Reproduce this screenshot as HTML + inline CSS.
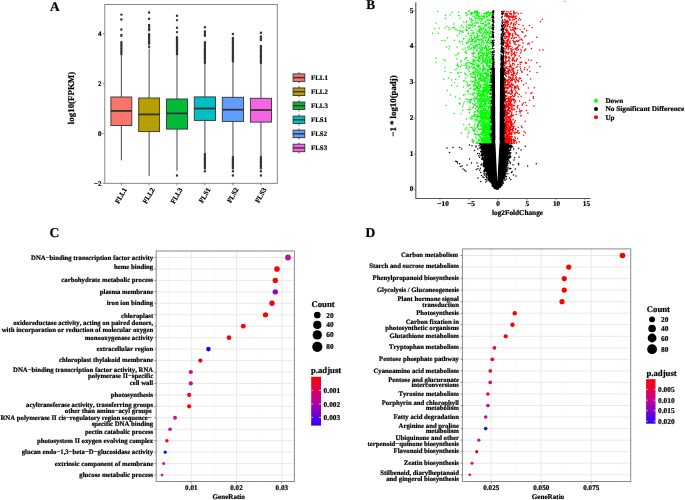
<!DOCTYPE html>
<html><head><meta charset="utf-8"><style>
html,body{margin:0;padding:0;background:#fff;}
body{width:685px;height:500px;overflow:hidden;}
svg{display:block;filter:blur(0.35px);}
text{stroke:#000;stroke-width:0.2px;text-rendering:geometricPrecision;font-kerning:none;font-variant-ligatures:none;}
</style></head><body>
<svg width="685" height="500" viewBox="0 0 685 500" font-family="'Liberation Serif', serif" font-weight="bold" fill="#000" stroke-width="0">
<rect width="685" height="500" fill="#fff"/>
<text x="50.00" y="10.80" font-size="13.3" text-anchor="start" >A</text>
<line x1="102.6" y1="33.68" x2="104.8" y2="33.68" stroke="#333" stroke-width="0.6"/>
<text x="101.60" y="36.08" font-size="7.0" text-anchor="end" >4</text>
<line x1="102.6" y1="83.54" x2="104.8" y2="83.54" stroke="#333" stroke-width="0.6"/>
<text x="101.60" y="85.94" font-size="7.0" text-anchor="end" >2</text>
<line x1="102.6" y1="133.40" x2="104.8" y2="133.40" stroke="#333" stroke-width="0.6"/>
<text x="101.60" y="135.80" font-size="7.0" text-anchor="end" >0</text>
<line x1="102.6" y1="183.26" x2="104.8" y2="183.26" stroke="#333" stroke-width="0.6"/>
<text x="101.60" y="185.66" font-size="7.0" text-anchor="end" >−2</text>
<line x1="121.35" y1="54.0" x2="121.35" y2="160.4" stroke="#333" stroke-width="0.9"/>
<rect x="110.9" y="97.0" width="20.90" height="28.50" fill="#F8766D" stroke="#333" stroke-width="0.9"/>
<line x1="110.9" y1="110.9" x2="131.8" y2="110.9" stroke="#333" stroke-width="1.8"/>
<path d="M121.4 14.6h0M121.4 19.4h0M121.4 29.5h0M121.4 35.0h0M121.4 35.8h0M121.4 42.3h0M121.4 43.1h0M121.4 44.2h0M121.4 45.6h0M121.4 47.0h0M121.4 48.4h0M121.4 49.5h0M121.4 50.9h0M121.4 52.1h0M121.4 52.8h0M121.4 53.9h0M121.4 54.0h0" stroke="#333" stroke-width="2.45" stroke-linecap="round" fill="none"/>
<line x1="149.15" y1="48.5" x2="149.15" y2="175.8" stroke="#333" stroke-width="0.9"/>
<rect x="138.7" y="98.0" width="20.90" height="33.60" fill="#B79F00" stroke="#333" stroke-width="0.9"/>
<line x1="138.7" y1="114.4" x2="159.6" y2="114.4" stroke="#333" stroke-width="1.8"/>
<path d="M149.1 12.4h0M149.1 18.7h0M149.1 25.0h0M149.1 26.5h0M149.1 28.5h0M149.1 30.0h0M149.1 46.7h0M149.1 34.3h0M149.1 35.5h0M149.1 36.4h0M149.1 38.0h0M149.1 39.6h0M149.1 40.7h0M149.1 42.1h0M149.1 42.9h0M149.1 43.8h0M149.1 43.8h0" stroke="#333" stroke-width="2.45" stroke-linecap="round" fill="none"/>
<line x1="177.00" y1="54.0" x2="177.00" y2="170.7" stroke="#333" stroke-width="0.9"/>
<rect x="166.4" y="99.0" width="21.20" height="30.10" fill="#00BA38" stroke="#333" stroke-width="0.9"/>
<line x1="166.4" y1="113.4" x2="187.6" y2="113.4" stroke="#333" stroke-width="1.8"/>
<path d="M177.0 15.8h0M177.0 20.1h0M177.0 27.7h0M177.0 32.1h0M177.0 175.5h0M177.0 37.2h0M177.0 38.0h0M177.0 39.2h0M177.0 40.0h0M177.0 41.4h0M177.0 42.7h0M177.0 43.7h0M177.0 45.0h0M177.0 46.2h0M177.0 46.9h0M177.0 48.0h0M177.0 49.3h0M177.0 50.5h0M177.0 52.1h0M177.0 53.5h0M177.0 54.0h0" stroke="#333" stroke-width="2.45" stroke-linecap="round" fill="none"/>
<line x1="204.90" y1="62.8" x2="204.90" y2="154.2" stroke="#333" stroke-width="0.9"/>
<rect x="194.3" y="96.9" width="21.20" height="23.50" fill="#00BFC4" stroke="#333" stroke-width="0.9"/>
<line x1="194.3" y1="108.5" x2="215.5" y2="108.5" stroke="#333" stroke-width="1.8"/>
<path d="M204.9 27.3h0M204.9 171.3h0M204.9 31.4h0M204.9 33.1h0M204.9 34.2h0M204.9 35.6h0M204.9 35.8h0M204.9 42.3h0M204.9 43.1h0M204.9 43.8h0M204.9 45.1h0M204.9 45.8h0M204.9 46.8h0M204.9 48.4h0M204.9 50.0h0M204.9 50.7h0M204.9 51.4h0M204.9 52.2h0M204.9 53.8h0M204.9 54.4h0M204.9 55.2h0M204.9 55.9h0M204.9 56.7h0M204.9 57.9h0M204.9 58.7h0M204.9 59.7h0M204.9 61.1h0M204.9 62.5h0M204.9 62.8h0M204.9 154.2h0M204.9 155.7h0M204.9 156.9h0M204.9 158.4h0M204.9 159.3h0M204.9 160.3h0M204.9 161.5h0M204.9 163.2h0M204.9 164.4h0M204.9 165.6h0M204.9 166.4h0M204.9 167.4h0M204.9 168.2h0M204.9 168.3h0" stroke="#333" stroke-width="2.45" stroke-linecap="round" fill="none"/>
<line x1="232.95" y1="61.3" x2="232.95" y2="157.1" stroke="#333" stroke-width="0.9"/>
<rect x="222.3" y="97.3" width="21.30" height="24.10" fill="#619CFF" stroke="#333" stroke-width="0.9"/>
<line x1="222.3" y1="109.7" x2="243.6" y2="109.7" stroke="#333" stroke-width="1.8"/>
<path d="M232.9 33.9h0M232.9 171.3h0M232.9 175.5h0M232.9 38.0h0M232.9 39.7h0M232.9 41.2h0M232.9 42.6h0M232.9 43.5h0M232.9 44.4h0M232.9 45.8h0M232.9 47.3h0M232.9 47.9h0M232.9 48.7h0M232.9 50.3h0M232.9 51.0h0M232.9 52.3h0M232.9 53.3h0M232.9 54.6h0M232.9 56.2h0M232.9 57.4h0M232.9 58.4h0M232.9 59.4h0M232.9 60.7h0M232.9 61.3h0M232.9 157.1h0M232.9 158.2h0M232.9 159.3h0M232.9 160.5h0M232.9 161.3h0M232.9 162.1h0M232.9 163.4h0M232.9 164.1h0M232.9 165.3h0M232.9 166.8h0M232.9 168.3h0" stroke="#333" stroke-width="2.45" stroke-linecap="round" fill="none"/>
<line x1="260.95" y1="62.8" x2="260.95" y2="157.1" stroke="#333" stroke-width="0.9"/>
<rect x="250.4" y="98.3" width="21.10" height="23.80" fill="#F564E3" stroke="#333" stroke-width="0.9"/>
<line x1="250.4" y1="110.0" x2="271.5" y2="110.0" stroke="#333" stroke-width="1.8"/>
<path d="M260.9 32.8h0M260.9 171.3h0M260.9 175.5h0M260.9 36.5h0M260.9 38.1h0M260.9 39.0h0M260.9 40.1h0M260.9 46.0h0M260.9 47.6h0M260.9 48.6h0M260.9 50.0h0M260.9 51.0h0M260.9 51.8h0M260.9 52.8h0M260.9 54.2h0M260.9 55.0h0M260.9 56.3h0M260.9 57.3h0M260.9 58.1h0M260.9 59.1h0M260.9 60.2h0M260.9 61.3h0M260.9 62.8h0M260.9 157.1h0M260.9 158.7h0M260.9 159.6h0M260.9 161.2h0M260.9 162.5h0M260.9 164.2h0M260.9 165.7h0M260.9 166.9h0M260.9 167.7h0M260.9 168.3h0" stroke="#333" stroke-width="2.45" stroke-linecap="round" fill="none"/>
<rect x="104.8" y="4.5" width="172.50" height="178.80" fill="none" stroke="#7a7a7a" stroke-width="0.9"/>
<line x1="121.35" y1="183.3" x2="121.35" y2="185.3" stroke="#333" stroke-width="0.6"/>
<text x="0" y="0" font-size="7.0" text-anchor="end" transform="translate(122.95,187.00) rotate(-60)" dy="0.7em">FLL1</text>
<line x1="149.15" y1="183.3" x2="149.15" y2="185.3" stroke="#333" stroke-width="0.6"/>
<text x="0" y="0" font-size="7.0" text-anchor="end" transform="translate(150.75,187.00) rotate(-60)" dy="0.7em">FLL2</text>
<line x1="177.00" y1="183.3" x2="177.00" y2="185.3" stroke="#333" stroke-width="0.6"/>
<text x="0" y="0" font-size="7.0" text-anchor="end" transform="translate(178.60,187.00) rotate(-60)" dy="0.7em">FLL3</text>
<line x1="204.90" y1="183.3" x2="204.90" y2="185.3" stroke="#333" stroke-width="0.6"/>
<text x="0" y="0" font-size="7.0" text-anchor="end" transform="translate(206.50,187.00) rotate(-60)" dy="0.7em">FLS1</text>
<line x1="232.95" y1="183.3" x2="232.95" y2="185.3" stroke="#333" stroke-width="0.6"/>
<text x="0" y="0" font-size="7.0" text-anchor="end" transform="translate(234.55,187.00) rotate(-60)" dy="0.7em">FLS2</text>
<line x1="260.95" y1="183.3" x2="260.95" y2="185.3" stroke="#333" stroke-width="0.6"/>
<text x="0" y="0" font-size="7.0" text-anchor="end" transform="translate(262.55,187.00) rotate(-60)" dy="0.7em">FLS3</text>
<text x="0" y="0" font-size="8.9" text-anchor="middle" transform="translate(74.3,98) rotate(-90)">log10(FPKM)</text>
<line x1="299" y1="72.20" x2="299" y2="83.10" stroke="#333" stroke-width="0.9"/>
<rect x="293.1" y="73.90" width="11.7" height="7.5" fill="#F8766D" stroke="#333" stroke-width="0.9"/>
<line x1="293.1" y1="77.60" x2="304.8" y2="77.60" stroke="#333" stroke-width="1.4"/>
<text x="311.00" y="80.00" font-size="6.9" text-anchor="start" >FLL1</text>
<line x1="299" y1="86.26" x2="299" y2="97.16" stroke="#333" stroke-width="0.9"/>
<rect x="293.1" y="87.96" width="11.7" height="7.5" fill="#B79F00" stroke="#333" stroke-width="0.9"/>
<line x1="293.1" y1="91.66" x2="304.8" y2="91.66" stroke="#333" stroke-width="1.4"/>
<text x="311.00" y="94.06" font-size="6.9" text-anchor="start" >FLL2</text>
<line x1="299" y1="100.32" x2="299" y2="111.22" stroke="#333" stroke-width="0.9"/>
<rect x="293.1" y="102.02" width="11.7" height="7.5" fill="#00BA38" stroke="#333" stroke-width="0.9"/>
<line x1="293.1" y1="105.72" x2="304.8" y2="105.72" stroke="#333" stroke-width="1.4"/>
<text x="311.00" y="108.12" font-size="6.9" text-anchor="start" >FLL3</text>
<line x1="299" y1="114.38" x2="299" y2="125.28" stroke="#333" stroke-width="0.9"/>
<rect x="293.1" y="116.08" width="11.7" height="7.5" fill="#00BFC4" stroke="#333" stroke-width="0.9"/>
<line x1="293.1" y1="119.78" x2="304.8" y2="119.78" stroke="#333" stroke-width="1.4"/>
<text x="311.00" y="122.18" font-size="6.9" text-anchor="start" >FLS1</text>
<line x1="299" y1="128.44" x2="299" y2="139.34" stroke="#333" stroke-width="0.9"/>
<rect x="293.1" y="130.14" width="11.7" height="7.5" fill="#619CFF" stroke="#333" stroke-width="0.9"/>
<line x1="293.1" y1="133.84" x2="304.8" y2="133.84" stroke="#333" stroke-width="1.4"/>
<text x="311.00" y="136.24" font-size="6.9" text-anchor="start" >FLS2</text>
<line x1="299" y1="142.50" x2="299" y2="153.40" stroke="#333" stroke-width="0.9"/>
<rect x="293.1" y="144.20" width="11.7" height="7.5" fill="#F564E3" stroke="#333" stroke-width="0.9"/>
<line x1="293.1" y1="147.90" x2="304.8" y2="147.90" stroke="#333" stroke-width="1.4"/>
<text x="311.00" y="150.30" font-size="6.9" text-anchor="start" >FLS3</text>
<text x="366.30" y="8.80" font-size="13.3" text-anchor="start" >B</text>
<path d="M478.7 101.4h0M483.7 99.6h0M485.8 131.8h0M486.3 48.8h0M478.9 139.2h0M472.8 141.9h0M489.3 71.8h0M491.1 142.9h0M491.2 131.3h0M479.8 99.8h0M484.6 92.1h0M487.2 70.5h0M437.6 11.4h0M487.9 63.1h0M483.3 121.4h0M475.6 108.2h0M471.4 19.0h0M478.9 129.5h0M490.4 14.7h0M487.5 75.7h0M483.2 139.4h0M487.4 54.7h0M484.7 138.5h0M487.6 132.4h0M490.5 131.3h0M484.8 73.4h0M481.8 129.2h0M474.0 47.0h0M483.1 129.4h0M473.9 73.7h0M484.0 129.2h0M490.8 116.9h0M489.7 139.2h0M484.6 80.0h0M480.8 18.8h0M489.1 35.8h0M468.5 28.2h0M482.4 131.4h0M473.1 130.7h0M490.2 79.7h0M482.4 142.1h0M476.1 63.6h0M489.1 80.7h0M487.8 61.1h0M468.1 86.3h0M479.4 122.3h0M488.2 142.9h0M488.8 141.0h0M486.4 84.4h0M460.7 31.4h0M489.4 65.8h0M484.1 142.2h0M472.1 64.2h0M479.1 74.6h0M489.0 118.0h0M477.5 88.2h0M476.2 58.3h0M478.5 27.0h0M466.0 29.6h0M462.9 49.2h0M482.1 76.4h0M481.2 78.8h0M458.4 12.3h0M484.6 109.7h0M477.2 103.0h0M480.3 56.1h0M481.9 97.5h0M478.0 95.2h0M488.7 124.9h0M489.0 67.9h0M483.6 28.7h0M478.9 31.2h0M483.8 130.6h0M466.5 27.1h0M489.7 82.7h0M463.6 95.3h0M469.0 62.6h0M489.3 133.2h0M485.6 129.1h0M479.4 95.7h0M490.4 14.4h0M483.1 142.4h0M486.4 63.0h0M489.4 49.0h0M480.2 101.0h0M491.1 126.8h0M481.1 75.7h0M445.2 71.6h0M483.5 66.9h0M487.4 132.4h0M487.1 62.1h0M485.8 114.9h0M485.5 78.0h0M470.5 49.0h0M489.5 23.7h0M478.9 101.2h0M480.6 111.1h0M465.2 48.1h0M479.1 72.2h0M477.7 44.4h0M465.1 129.2h0M476.1 15.3h0M470.0 117.9h0M486.7 114.6h0M484.5 87.6h0M483.1 142.5h0M485.7 47.6h0M489.2 49.6h0M479.0 92.5h0M466.3 66.1h0M487.9 20.6h0M480.8 91.0h0M476.9 74.2h0M486.1 86.2h0M469.1 39.6h0M464.0 38.6h0M483.5 84.3h0M491.2 94.4h0M484.4 16.8h0M482.6 47.4h0M482.2 65.9h0M462.8 106.5h0M490.4 123.5h0M463.5 103.9h0M489.3 98.1h0M473.0 77.4h0M488.4 51.1h0M488.6 127.8h0M490.5 113.7h0M482.3 59.3h0M486.3 125.5h0M486.5 103.5h0M488.9 90.7h0M483.0 75.4h0M474.7 38.5h0M483.4 127.3h0M486.1 29.2h0M471.4 25.5h0M487.5 32.0h0M490.1 60.0h0M476.2 41.9h0M485.6 136.7h0M486.2 142.9h0M470.2 27.6h0M484.7 94.0h0M490.5 66.7h0M487.0 138.1h0M489.7 92.7h0M483.5 131.8h0M470.4 12.9h0M481.1 140.9h0M483.1 53.6h0M483.0 92.7h0M484.8 143.0h0M484.6 132.1h0M489.8 107.5h0M478.2 93.1h0M474.6 47.3h0M481.7 75.7h0M465.1 94.2h0M474.6 124.7h0M466.2 51.3h0M459.5 30.4h0M484.3 53.2h0M485.7 60.7h0M487.1 99.1h0M488.1 74.2h0M485.7 21.5h0M482.6 70.9h0M468.2 109.5h0M472.8 64.2h0M485.7 142.7h0M491.1 124.8h0M490.7 130.8h0M477.4 125.4h0M470.6 93.7h0M475.7 11.9h0M485.2 140.1h0M482.6 141.8h0M485.1 98.7h0M475.4 78.5h0M484.1 105.6h0M483.8 112.5h0M480.5 86.1h0M489.2 120.6h0M485.5 141.9h0M470.7 109.5h0M473.5 141.5h0M481.2 140.2h0M475.2 97.9h0M466.9 91.5h0M466.1 99.2h0M481.6 79.6h0M490.9 100.9h0M485.4 90.8h0M487.5 69.6h0M479.1 82.9h0M447.3 90.5h0M489.8 58.7h0M479.8 31.1h0M483.5 113.3h0M481.9 85.5h0M487.4 55.5h0M450.3 14.9h0M489.6 142.0h0M490.4 105.0h0M490.5 88.9h0M480.5 68.2h0M489.3 111.6h0M481.7 115.1h0M484.8 140.2h0M488.5 76.5h0M480.9 105.1h0M479.2 112.1h0M483.1 117.3h0M485.0 25.9h0M482.5 138.7h0M487.7 139.7h0M477.4 66.8h0M486.1 140.1h0M485.5 139.7h0M489.4 65.4h0M487.6 113.4h0M486.8 137.3h0M446.9 26.3h0M475.5 103.3h0M480.8 118.2h0M485.2 30.7h0M487.2 112.5h0M484.8 109.8h0M475.1 48.1h0M479.7 85.8h0M491.1 33.2h0M483.5 92.6h0M475.8 17.4h0M485.1 140.8h0M485.4 139.6h0M479.6 29.9h0M485.9 135.3h0M483.7 126.0h0M486.2 91.8h0M473.7 115.8h0M481.3 95.7h0M467.1 63.1h0M474.7 43.0h0M449.4 46.5h0M481.9 19.0h0M466.9 62.7h0M482.0 105.6h0M488.8 12.7h0M489.0 130.0h0M486.2 16.8h0M484.8 137.5h0M487.5 132.3h0M474.6 82.6h0M489.9 137.9h0M485.7 127.0h0M489.1 128.1h0M488.9 132.9h0M470.8 87.9h0M469.6 124.4h0M480.1 115.3h0M490.9 97.3h0M466.5 20.9h0M487.9 90.9h0M487.6 12.9h0M488.8 143.0h0M480.2 48.1h0M488.9 134.2h0M477.5 124.5h0M476.8 74.5h0M479.9 89.9h0M477.8 143.2h0M487.0 43.7h0M483.1 61.7h0M471.4 99.2h0M476.2 37.5h0M477.6 106.0h0M481.5 43.0h0M479.0 91.2h0M490.8 118.9h0M483.7 119.5h0M490.5 113.2h0M479.1 108.9h0M491.3 42.4h0M489.0 111.1h0M491.3 85.6h0M488.1 12.6h0M485.8 77.7h0M486.9 89.2h0M488.7 109.2h0M488.7 130.4h0M477.6 21.4h0M479.2 116.5h0M485.6 135.5h0M484.7 63.0h0M490.1 41.1h0M490.5 127.9h0M479.6 107.3h0M483.3 104.7h0M466.5 53.2h0M491.3 116.6h0M478.8 108.1h0M480.1 49.3h0M489.1 142.8h0M485.6 72.3h0M479.4 93.5h0M478.8 78.4h0M485.4 29.2h0M481.4 94.8h0M477.8 13.5h0M472.7 41.3h0M490.4 76.0h0M484.5 126.1h0M477.4 116.8h0M477.8 99.9h0M479.6 135.9h0M487.9 86.1h0M439.1 28.0h0M477.9 80.0h0M479.0 121.4h0M473.5 84.2h0M491.1 88.0h0M468.9 132.2h0M480.0 71.1h0M480.5 58.2h0M488.3 46.9h0M486.7 99.3h0M483.8 84.8h0M488.4 124.1h0M480.2 73.7h0M478.9 135.2h0M483.2 99.0h0M477.9 66.1h0M455.4 96.8h0M483.7 37.9h0M469.5 85.3h0M477.8 91.3h0M483.4 117.8h0M480.3 29.7h0M480.4 55.8h0M488.1 140.5h0M490.9 94.5h0M487.8 65.2h0M489.2 119.5h0M472.1 140.5h0M468.2 69.9h0M477.1 46.6h0M474.5 85.2h0M481.6 48.9h0M487.5 20.3h0M490.9 120.2h0M466.3 30.6h0M491.0 113.6h0M482.1 142.4h0M450.4 95.1h0M487.9 98.6h0M469.2 25.6h0M483.0 40.9h0M461.3 132.9h0M489.9 130.2h0M489.9 33.3h0M474.0 60.2h0M489.4 35.3h0M466.9 65.1h0M489.2 139.9h0M488.7 62.7h0M483.6 127.0h0M480.6 111.7h0M487.2 81.7h0M486.8 24.8h0M474.1 74.0h0M484.8 103.0h0M489.5 141.7h0M480.5 125.4h0M489.2 121.8h0M489.8 122.5h0M489.2 30.3h0M486.7 100.1h0M488.6 24.3h0M486.5 86.8h0M482.9 71.1h0M468.4 94.0h0M474.8 91.9h0M480.1 51.1h0M483.8 127.0h0M487.6 49.9h0M483.6 96.4h0M483.3 95.0h0M474.8 62.0h0M491.3 132.2h0M485.7 95.4h0M490.9 124.2h0M481.5 28.4h0M489.2 49.0h0M488.4 118.9h0M487.7 76.9h0M478.2 81.9h0M490.3 133.0h0M458.2 65.9h0M488.8 140.9h0M481.2 128.9h0M477.1 96.3h0M484.9 135.2h0M484.3 142.0h0M489.1 135.5h0M491.1 105.1h0M477.4 11.7h0M486.3 127.6h0M481.8 126.4h0M479.4 112.7h0M485.4 78.5h0M486.2 72.5h0M464.1 65.3h0M484.6 32.2h0M476.3 40.0h0M490.0 129.0h0M488.9 87.7h0M488.8 129.1h0M464.2 102.1h0M484.8 36.5h0M488.8 140.3h0M489.9 122.9h0M481.7 124.2h0M485.4 61.9h0M480.5 134.5h0M473.5 53.4h0M488.7 142.8h0M481.6 139.6h0M490.7 52.6h0M491.1 109.0h0M491.2 134.7h0M485.7 118.8h0M489.5 135.9h0M489.2 60.2h0M484.7 130.0h0M480.4 107.5h0M488.4 127.9h0M491.3 128.9h0M477.7 75.5h0M478.8 15.7h0M478.4 26.2h0M454.9 69.8h0M490.8 127.1h0M490.9 104.6h0M485.8 110.3h0M487.6 122.4h0M482.5 98.3h0M488.4 126.6h0M484.3 105.3h0M478.7 64.2h0M488.9 142.7h0M491.1 140.8h0M485.3 95.5h0M491.2 117.3h0M475.0 114.7h0M489.9 124.3h0M478.0 99.1h0M480.0 112.9h0M479.8 52.5h0M488.4 106.8h0M466.6 42.4h0M489.4 28.0h0M486.8 93.8h0M488.4 15.4h0M489.5 127.7h0M488.7 143.2h0M485.1 126.6h0M483.3 87.9h0M467.3 42.1h0M477.4 114.8h0M478.8 61.8h0M469.7 17.9h0M482.5 76.9h0M482.5 112.0h0M488.3 90.0h0M486.0 117.3h0M491.0 136.7h0M490.7 138.4h0M485.4 101.5h0M474.4 133.7h0M487.6 141.3h0M477.8 48.2h0M488.5 125.3h0M481.7 116.3h0M484.0 42.6h0M475.9 63.3h0M484.9 47.3h0M488.8 69.4h0M483.9 143.0h0M478.4 16.6h0M486.8 105.7h0M488.3 23.6h0M490.9 62.2h0M480.5 121.7h0M491.3 137.1h0M486.4 88.7h0M471.0 119.1h0M485.1 122.0h0M466.5 53.5h0M476.8 65.4h0M490.7 135.0h0M482.6 23.5h0M491.3 137.1h0M482.0 85.3h0M486.7 123.0h0M491.0 112.5h0M481.9 140.8h0M487.7 139.9h0M474.4 11.5h0M480.1 97.0h0M484.9 108.7h0M487.3 71.3h0M469.6 102.6h0M490.2 132.6h0M488.7 137.2h0M482.1 55.5h0M483.7 143.1h0M485.1 143.0h0M484.4 48.9h0M456.8 47.0h0M472.5 13.7h0M488.8 107.9h0M480.8 28.0h0M488.2 127.8h0M469.3 71.3h0M487.3 74.3h0M490.1 28.8h0M489.4 116.2h0M478.6 57.2h0M490.4 132.5h0M491.3 114.3h0M487.4 94.5h0M474.2 89.5h0M476.9 33.3h0M482.4 138.0h0M484.3 18.1h0M487.1 63.4h0M469.3 68.1h0M481.9 131.9h0M488.4 134.9h0M481.2 73.4h0M461.5 32.0h0M490.2 94.2h0M483.4 41.0h0M485.3 70.0h0M486.0 127.5h0M482.6 92.7h0M483.8 102.1h0M483.0 23.9h0M486.1 12.4h0M465.9 58.3h0M471.6 35.6h0M479.5 96.1h0M458.0 72.6h0M471.5 48.0h0M479.1 140.7h0M478.2 125.4h0M474.3 89.7h0M490.9 122.4h0M484.4 86.9h0M482.7 126.4h0M473.6 52.6h0M485.1 48.1h0M488.8 138.5h0M470.2 36.1h0M483.5 132.1h0M473.6 77.6h0M479.7 13.3h0M488.3 34.0h0M491.2 69.5h0M484.4 115.6h0M484.2 122.5h0M485.1 132.2h0M490.2 99.5h0M485.3 22.2h0M474.3 130.8h0M486.2 58.4h0M483.7 107.2h0M474.8 105.0h0M478.4 100.8h0M489.1 114.8h0M477.4 83.3h0M475.0 121.7h0M474.3 101.0h0M483.4 57.2h0M489.5 140.8h0M475.6 102.9h0M487.7 65.2h0M479.9 106.7h0M488.3 125.4h0M462.5 44.0h0M477.6 88.3h0M488.6 139.3h0M485.7 60.6h0M471.2 30.1h0M486.0 75.1h0M482.5 99.7h0M443.7 79.3h0M475.3 12.4h0M473.5 72.4h0M488.5 140.6h0M473.6 71.5h0M490.3 129.5h0M490.7 108.9h0M486.0 133.4h0M475.7 57.4h0M489.7 59.3h0M479.5 99.2h0M471.2 21.5h0M485.5 114.2h0M489.2 137.8h0M483.6 93.8h0M487.3 136.4h0M489.2 120.8h0M489.1 106.4h0M485.7 101.5h0M474.8 38.6h0M479.4 134.4h0M480.4 107.4h0M491.3 17.9h0M477.3 134.5h0M482.1 62.3h0M489.4 142.5h0M474.9 17.4h0M491.0 141.7h0M481.8 124.4h0M484.2 116.9h0M463.0 32.2h0M473.1 94.7h0M489.0 120.2h0M486.1 112.2h0M486.5 113.4h0M483.0 141.5h0M486.1 90.9h0M488.2 128.3h0M489.3 118.5h0M491.3 56.2h0M478.3 107.4h0M471.1 81.2h0M487.2 80.5h0M486.9 78.8h0M480.8 95.2h0M489.7 141.4h0M487.4 123.4h0M486.7 37.0h0M473.2 67.7h0M486.1 42.0h0M479.4 44.2h0M491.1 141.2h0M475.5 76.4h0M475.1 74.2h0M491.3 55.6h0M478.6 58.3h0M470.6 14.1h0M477.0 50.8h0M486.6 111.0h0M485.2 137.3h0M484.6 140.4h0M489.9 69.8h0M483.0 137.2h0M473.6 86.2h0M480.6 106.3h0M480.3 136.9h0M488.8 142.4h0M466.8 68.5h0M477.3 66.1h0M490.3 138.2h0M486.5 82.3h0M486.3 133.6h0M483.4 92.0h0M480.6 40.1h0M474.3 97.6h0M487.3 64.8h0M487.3 59.4h0M481.5 140.8h0M480.2 61.7h0M457.0 86.3h0M488.8 100.9h0M486.3 55.6h0M478.2 39.2h0M486.8 85.0h0M476.8 134.7h0M476.3 46.6h0M486.5 128.7h0M478.9 78.7h0M454.5 82.8h0M473.7 66.1h0M475.1 61.3h0M487.4 60.0h0M489.7 142.8h0M490.3 120.9h0M488.0 96.9h0M482.1 122.6h0M474.9 134.0h0M479.5 78.8h0M477.4 89.9h0M490.7 51.8h0M476.2 23.0h0M488.1 127.2h0M464.8 59.6h0M488.4 85.3h0M472.8 20.5h0M475.4 71.3h0M490.6 138.4h0M474.3 13.1h0M491.0 140.9h0M483.4 142.4h0M458.5 66.8h0M484.1 91.8h0M488.5 131.8h0M481.5 95.0h0M490.7 106.0h0M477.3 96.7h0M487.4 86.0h0M480.4 116.1h0M445.5 15.6h0M471.2 37.2h0M482.0 96.3h0M475.6 78.2h0M483.3 139.4h0M484.5 142.3h0M491.0 19.1h0M482.0 42.4h0M478.6 83.2h0M485.3 143.2h0M466.2 15.7h0M491.3 116.1h0M480.6 52.7h0M481.7 91.1h0M479.4 101.0h0M489.4 132.6h0M487.3 97.8h0M489.2 126.7h0M478.3 91.6h0M489.0 131.8h0M484.0 116.8h0M490.3 49.2h0M487.9 53.8h0M477.4 106.4h0M454.1 113.6h0M481.7 109.8h0M476.1 50.6h0M484.5 110.8h0M475.5 57.5h0M488.8 143.0h0M482.6 140.7h0M468.3 129.9h0M473.0 23.9h0M482.9 135.5h0M485.2 131.1h0M472.6 32.9h0M490.2 101.2h0M480.2 123.1h0M491.1 131.8h0M490.4 119.4h0M483.4 91.0h0M472.6 54.0h0M491.0 139.8h0M481.0 119.1h0M487.2 94.3h0M479.0 84.9h0M480.2 16.2h0M488.4 39.5h0M471.2 21.6h0M490.7 54.0h0M484.8 133.7h0M489.7 129.3h0M479.2 47.7h0M491.3 99.7h0M489.0 119.7h0M484.1 77.3h0M486.1 76.5h0M484.1 32.7h0M487.0 89.1h0M472.9 27.2h0M469.6 38.2h0M474.1 93.6h0M489.6 133.0h0M475.9 82.7h0M484.3 121.9h0M486.0 114.7h0M484.8 25.6h0M489.6 143.2h0M484.7 84.1h0M487.7 139.2h0M470.8 73.8h0M480.8 102.7h0M474.2 127.1h0M477.7 125.0h0M478.9 104.8h0M487.9 96.3h0M485.6 40.3h0M483.5 130.7h0M446.5 46.9h0M478.8 66.8h0M469.5 45.9h0M487.4 45.0h0M482.1 26.1h0M484.6 115.2h0M461.1 27.7h0M490.7 140.8h0M467.7 14.4h0M484.4 131.7h0M489.6 13.9h0M474.7 60.0h0M474.3 52.9h0M467.3 84.8h0M487.0 96.0h0M485.2 142.7h0M483.8 127.7h0M486.4 65.3h0M484.8 123.1h0M469.0 66.6h0M468.0 24.7h0M472.3 20.1h0M486.8 52.0h0M491.1 91.6h0M482.9 36.5h0M488.3 57.0h0M486.9 83.1h0M488.8 140.4h0M468.7 91.0h0M488.9 106.4h0M476.3 98.5h0M481.5 104.0h0M476.6 86.9h0M481.5 29.3h0M488.4 11.5h0M489.1 53.4h0M480.6 87.5h0M476.9 60.0h0M484.2 72.8h0M485.7 104.0h0M470.8 19.6h0M485.9 140.4h0M486.3 103.3h0M485.7 84.2h0M481.2 72.5h0M490.6 141.7h0M491.3 141.3h0M487.9 140.3h0M476.2 138.2h0M487.5 96.7h0M486.3 14.1h0M478.3 128.4h0M480.0 106.9h0M484.3 124.8h0M486.1 101.9h0M483.3 101.3h0M481.7 106.8h0M479.4 101.0h0M479.1 101.1h0M484.4 15.5h0M486.9 69.1h0M461.4 60.4h0M480.2 69.4h0M486.4 127.9h0M477.9 14.8h0M485.5 142.9h0M489.5 124.5h0M484.2 108.4h0M480.6 27.4h0M466.4 43.8h0M479.3 81.7h0M487.3 56.7h0M481.9 63.5h0M476.4 13.5h0M480.4 117.3h0M486.2 123.0h0M482.8 95.5h0M486.6 30.9h0M489.2 46.5h0M483.2 79.3h0M472.5 12.7h0M490.8 114.1h0M484.1 120.1h0M486.9 42.6h0M491.2 113.4h0M490.0 111.4h0M466.5 118.9h0M490.5 125.5h0M485.4 139.5h0M484.4 124.0h0M477.3 142.5h0M484.8 129.4h0M478.3 115.9h0M485.8 98.5h0M480.1 45.4h0M487.8 13.5h0M474.9 77.2h0M486.9 115.4h0M460.1 42.7h0M485.1 133.0h0M472.8 128.9h0M489.5 127.9h0M478.6 61.3h0M480.6 140.9h0M490.9 82.7h0M474.4 114.0h0M490.0 36.6h0M490.3 142.8h0M484.3 123.1h0M488.6 117.6h0M486.5 86.0h0M489.2 125.6h0M487.0 142.9h0M482.5 123.6h0M487.7 99.1h0M479.8 32.1h0M483.2 70.9h0M485.4 106.5h0M484.5 99.2h0M468.9 49.5h0M491.2 142.7h0M486.7 48.2h0M474.5 131.2h0M478.1 67.1h0M484.4 101.1h0M432.7 33.3h0M487.4 41.3h0M482.1 16.5h0M476.4 119.1h0M471.6 12.8h0M488.7 143.0h0M482.3 74.1h0M476.8 22.5h0M489.2 81.4h0M470.0 99.8h0M486.4 128.8h0M484.4 115.9h0M486.4 142.9h0M484.1 129.1h0M475.4 116.3h0M489.5 138.5h0M476.8 45.0h0M485.0 141.1h0M491.2 135.6h0M482.5 133.7h0M482.1 117.7h0M485.9 131.8h0M481.1 23.2h0M477.2 110.4h0M482.8 61.9h0M486.8 17.0h0M490.5 26.5h0M489.1 131.7h0M471.9 39.7h0M485.3 69.3h0M490.7 61.5h0M484.3 96.0h0M483.3 141.6h0M490.0 111.8h0M473.1 81.3h0M480.5 94.8h0M489.0 85.4h0M474.8 60.3h0M488.0 142.3h0M477.1 39.8h0M490.7 54.2h0M488.9 43.1h0M484.4 142.1h0M491.0 110.6h0M473.3 39.4h0M489.5 142.1h0M489.9 131.2h0M489.1 73.9h0M489.7 89.8h0M486.0 85.0h0M483.2 98.4h0M491.4 131.0h0M484.6 32.0h0M474.7 88.9h0M487.4 110.3h0M471.8 63.3h0M483.5 121.9h0M473.1 50.3h0M483.4 131.7h0M471.9 53.5h0M466.9 57.7h0M455.7 79.4h0M472.3 40.7h0M486.7 135.3h0M491.0 136.2h0M486.6 75.8h0M484.7 79.1h0M474.6 37.5h0M489.6 112.5h0M481.2 38.9h0M491.4 115.6h0M489.6 143.2h0M490.5 12.7h0M483.0 61.8h0M445.2 60.7h0M486.8 105.5h0M486.7 118.7h0M477.3 66.8h0M479.9 17.3h0M488.0 133.8h0M486.4 131.9h0M472.4 68.5h0M487.9 138.7h0M481.4 43.3h0M489.8 37.7h0M488.1 73.8h0M491.1 142.4h0M482.8 90.3h0M489.6 43.3h0M475.5 69.1h0M478.0 87.1h0M469.8 68.1h0M483.0 52.0h0M489.7 143.1h0M483.6 80.0h0M486.7 141.1h0M444.9 67.3h0M486.3 121.3h0M473.2 46.9h0M485.2 97.1h0M489.8 113.5h0M483.2 108.3h0M488.0 134.7h0M484.8 79.9h0M481.7 120.7h0M482.7 129.2h0M489.9 97.2h0M490.5 31.5h0M484.1 68.4h0M475.7 79.4h0M482.5 116.1h0M486.1 137.9h0M466.9 99.0h0M485.9 129.8h0M478.6 98.9h0M490.9 129.6h0M461.8 25.4h0M481.1 117.9h0M482.3 48.4h0M482.9 135.6h0M481.3 36.1h0M483.2 118.2h0M484.0 54.5h0M483.6 65.0h0M490.3 137.3h0M479.3 42.9h0M489.7 112.6h0M489.5 15.8h0M480.5 64.0h0M474.2 52.7h0M479.2 16.8h0M487.5 111.4h0M486.0 72.9h0M478.6 39.3h0M479.4 39.9h0M490.7 125.4h0M467.8 47.8h0M490.1 110.9h0M473.0 74.3h0M489.5 125.0h0M482.9 33.8h0M487.7 130.3h0M491.2 122.6h0M470.3 74.2h0M490.9 131.2h0M491.2 48.9h0M487.7 101.3h0M488.9 142.2h0M473.2 16.3h0M489.6 35.5h0M481.2 46.2h0M488.3 138.7h0M478.2 134.3h0M457.2 30.3h0M478.1 73.1h0M482.6 69.4h0M482.5 106.5h0M477.1 66.2h0M489.2 43.2h0M483.6 141.7h0M486.7 119.1h0M479.3 85.5h0M471.2 116.5h0M490.9 143.2h0M487.0 32.7h0M478.8 52.9h0M489.3 106.5h0M482.5 100.0h0M490.0 138.1h0M491.4 90.1h0M466.6 13.5h0M468.0 134.1h0M483.8 132.4h0M489.6 22.9h0M483.1 133.6h0M489.5 27.9h0M484.1 114.1h0M483.9 61.1h0M487.0 100.8h0M482.0 101.0h0M490.1 117.2h0M488.9 141.8h0M488.4 142.3h0M471.1 21.9h0M488.4 118.3h0M484.0 135.8h0M490.5 110.5h0M489.9 142.9h0M490.3 60.5h0M484.3 131.4h0M483.4 58.3h0M482.1 113.8h0M469.3 124.3h0M451.9 80.0h0M486.7 133.0h0M486.3 46.7h0M470.5 102.7h0M473.4 130.1h0M487.9 93.4h0M481.0 121.0h0M474.1 80.9h0M488.4 126.0h0M491.1 127.8h0M486.8 106.6h0M491.3 85.4h0M483.2 68.5h0M491.0 111.0h0M490.5 120.5h0M491.3 142.4h0M483.5 33.6h0M490.3 91.2h0M482.5 50.1h0M486.0 115.1h0M449.0 48.9h0M483.3 60.1h0M484.0 90.1h0M470.9 44.2h0M480.3 55.8h0M482.9 28.2h0M477.9 111.3h0M479.8 85.7h0M487.7 96.4h0M487.8 32.8h0M456.8 58.9h0M484.1 122.9h0M473.1 59.2h0M484.8 90.9h0M481.1 115.8h0M483.5 23.3h0M490.5 123.1h0M486.4 116.3h0M478.8 103.7h0M453.7 23.9h0M487.2 127.7h0M486.1 73.5h0M491.2 12.6h0M485.4 139.2h0M487.6 40.4h0M482.2 126.3h0M481.1 124.1h0M483.0 16.4h0M482.2 56.6h0M484.7 123.3h0M490.1 117.4h0M487.8 16.6h0M445.5 18.5h0M454.2 40.3h0M480.1 85.2h0M471.0 41.3h0M487.8 140.9h0M462.8 30.9h0M479.3 68.4h0M490.8 112.3h0M475.9 29.7h0M485.8 100.0h0M490.0 67.5h0M489.8 143.2h0M487.7 127.9h0M461.9 65.2h0M480.5 142.8h0M485.4 59.2h0M484.0 115.7h0M484.0 141.3h0M477.1 69.6h0M483.4 100.4h0M465.6 74.2h0M481.5 112.8h0M459.4 76.4h0M471.6 38.3h0M474.1 100.0h0M489.0 143.0h0M486.9 12.5h0M486.6 65.9h0M484.3 108.8h0M475.6 105.3h0M481.7 15.3h0M488.8 127.9h0M482.6 30.6h0M484.0 91.4h0M489.4 140.7h0M478.1 44.9h0M463.8 81.0h0M485.5 141.3h0M441.8 40.6h0M486.0 134.1h0M475.1 79.5h0M476.8 93.4h0M483.4 110.1h0M488.7 124.5h0M480.8 79.1h0M434.5 28.8h0M475.4 25.8h0M491.0 139.2h0M482.3 138.6h0M491.4 61.6h0M474.0 48.7h0M483.5 44.3h0M491.2 142.5h0M467.9 91.1h0M485.5 137.4h0M485.2 116.8h0M488.4 106.5h0M478.3 121.6h0M488.4 52.5h0M479.2 143.2h0M490.6 14.5h0M486.1 133.7h0M471.2 76.8h0M490.3 127.2h0M488.4 142.5h0M477.0 112.2h0M489.9 42.8h0M484.4 142.4h0M489.9 141.5h0M460.6 66.5h0M481.4 126.1h0M463.6 26.9h0M484.0 141.5h0M491.2 140.6h0M490.3 33.3h0M486.8 113.6h0M490.2 77.7h0M485.4 89.9h0M475.4 46.2h0M483.4 126.1h0M487.5 143.2h0M460.6 62.0h0M487.0 128.2h0M490.7 122.2h0M490.8 65.4h0M475.9 137.1h0M471.8 33.2h0M482.6 133.1h0M490.5 129.6h0M479.8 139.6h0M482.8 98.1h0M486.4 135.8h0M458.4 73.5h0M490.4 135.8h0M479.0 96.1h0M466.6 67.4h0M453.7 27.5h0M485.5 46.5h0M487.9 141.2h0M483.8 13.6h0M457.3 35.8h0M468.2 32.9h0M480.4 77.6h0M489.2 20.0h0M484.8 84.8h0M484.7 139.8h0M465.4 57.9h0M481.0 102.9h0M489.6 84.7h0M490.2 100.5h0M490.5 139.9h0M474.4 42.8h0M487.8 87.2h0M479.3 40.6h0M488.7 75.2h0M460.1 104.1h0M490.9 81.5h0M476.7 86.4h0M491.3 129.8h0M477.0 142.5h0M486.5 134.5h0M482.0 125.9h0M480.1 56.6h0M489.1 121.3h0M473.9 35.3h0M474.8 114.9h0M488.6 124.8h0M486.4 137.6h0M483.7 126.3h0M489.4 135.4h0M469.5 112.8h0M462.1 41.5h0M480.7 23.2h0M485.3 117.5h0M482.6 125.8h0M491.1 61.0h0M481.2 112.3h0M482.6 88.1h0M483.3 87.2h0M490.0 87.3h0M459.4 103.1h0M486.2 120.9h0M480.8 101.2h0M489.4 139.5h0M490.9 130.1h0M482.2 91.5h0M484.2 80.2h0M484.3 78.3h0M478.3 66.3h0M467.3 82.4h0M487.6 87.8h0M482.7 111.6h0M473.0 61.2h0M471.5 14.4h0M490.4 76.9h0M485.9 142.9h0M484.8 77.8h0M479.6 57.4h0M483.3 87.9h0M485.7 139.2h0M474.0 104.6h0M488.5 133.4h0M481.3 133.5h0M482.4 62.4h0M474.6 11.6h0M476.2 143.2h0M485.8 101.9h0M487.8 133.6h0M481.6 35.2h0M480.5 98.8h0M475.5 80.3h0M483.0 80.4h0M479.3 35.7h0M489.6 96.6h0M487.6 127.4h0M481.7 80.0h0M480.3 98.5h0M477.7 126.8h0M483.4 116.2h0M488.6 103.5h0M474.4 36.9h0M484.2 103.2h0M483.6 91.6h0M490.1 20.5h0M490.7 13.3h0M491.1 44.3h0M483.6 132.6h0M491.3 142.8h0M487.8 141.3h0M474.7 17.0h0M465.8 81.6h0M487.0 126.5h0M480.4 137.9h0M483.8 130.4h0M490.7 123.1h0M486.7 126.4h0M479.2 66.4h0M475.0 82.3h0M476.6 116.3h0M490.5 93.5h0M491.0 73.2h0M490.1 139.6h0M487.2 124.1h0M482.3 135.0h0M482.9 76.8h0M457.7 64.0h0M490.6 125.7h0M490.1 136.5h0M476.4 86.0h0M459.9 103.9h0M485.3 101.4h0M483.4 108.3h0M486.1 25.7h0M486.2 91.3h0M482.8 52.2h0M480.9 93.2h0M489.3 125.2h0M480.6 80.6h0M484.7 105.0h0M489.6 138.2h0M477.0 120.4h0M479.7 58.0h0M490.6 137.3h0M473.1 142.6h0M482.8 112.2h0M478.0 70.4h0M485.1 140.6h0M482.2 53.2h0M481.9 47.5h0M490.0 131.8h0M485.1 91.4h0M480.8 74.6h0M473.8 106.8h0M438.4 33.3h0M481.3 52.3h0M484.9 125.8h0M486.2 125.7h0M488.1 79.1h0M481.6 119.8h0M486.8 118.0h0M481.7 104.4h0M458.5 53.1h0M483.5 16.4h0M476.9 72.2h0M485.2 105.9h0M488.6 112.7h0M476.1 98.1h0M455.7 29.2h0M482.0 122.4h0M483.6 140.5h0M456.7 68.7h0M490.8 132.4h0M481.5 110.9h0M490.2 121.4h0M485.7 124.8h0M485.3 82.3h0M481.0 22.9h0M486.5 34.6h0M476.4 87.4h0M474.0 67.8h0M481.1 99.3h0M467.2 75.8h0M487.0 125.0h0M490.0 114.1h0M491.2 125.2h0M486.0 91.2h0M479.0 29.3h0M478.3 121.7h0M472.5 39.6h0M478.4 67.2h0M488.4 134.3h0M490.0 116.2h0M481.5 108.2h0M486.8 113.9h0M459.2 15.8h0M444.8 40.4h0M490.8 106.5h0M484.3 112.6h0M491.0 143.1h0M480.5 105.3h0M480.4 75.2h0M487.7 127.0h0M486.9 19.4h0M477.9 119.0h0M484.9 126.3h0M485.8 22.2h0M478.6 60.6h0M490.8 68.5h0M490.1 132.5h0M491.2 121.6h0M489.6 91.4h0M490.9 138.9h0M489.2 135.6h0M481.9 50.1h0M481.5 111.5h0M478.0 109.5h0M489.8 104.1h0M473.9 140.2h0M477.4 11.0h0M489.2 80.0h0M480.0 73.7h0M490.7 141.9h0M486.7 53.9h0M486.6 50.8h0M490.9 109.2h0M476.7 142.1h0M470.0 88.5h0M484.2 67.4h0M481.0 78.5h0M489.4 115.2h0M484.4 96.3h0M485.8 141.3h0M482.1 133.4h0M478.8 78.7h0M484.5 17.0h0M483.0 55.3h0M483.9 123.3h0M478.3 36.8h0M483.6 139.9h0M483.5 77.8h0M489.4 106.7h0M490.9 48.5h0M465.5 77.9h0M481.1 132.2h0M489.5 93.7h0M490.0 123.8h0M486.3 141.9h0M478.4 125.4h0M470.7 100.8h0M481.4 99.6h0M483.5 119.2h0M489.7 56.4h0M476.0 57.1h0M490.5 76.8h0M490.4 112.6h0M484.6 142.1h0M490.4 75.6h0M459.3 41.1h0M491.4 129.8h0M482.4 132.9h0M485.7 142.2h0M490.4 54.0h0M447.5 38.1h0M480.0 85.3h0M461.0 72.5h0M472.2 94.4h0M481.0 102.2h0M472.3 82.1h0M467.2 30.4h0M486.7 142.5h0M477.6 18.6h0M478.9 54.5h0M488.3 103.2h0M485.2 112.9h0M482.6 117.8h0M456.0 55.5h0M488.0 140.8h0M479.1 120.5h0M491.1 143.0h0M486.9 142.5h0M483.4 88.8h0M488.7 91.6h0M488.5 134.3h0M487.6 82.4h0M479.3 79.1h0M484.5 130.0h0M473.4 47.7h0M485.2 13.6h0M490.4 123.8h0M485.6 132.5h0M469.3 109.8h0M487.2 90.3h0M484.3 141.4h0M480.5 120.4h0M486.3 110.7h0M482.9 17.0h0M475.2 72.9h0M490.8 115.8h0M485.0 139.9h0M463.8 22.0h0M487.5 139.1h0M481.0 50.6h0M490.9 133.0h0M478.6 104.1h0M490.7 141.6h0M481.9 138.3h0M485.6 81.0h0M483.5 114.4h0M481.5 111.7h0M488.9 140.1h0M488.3 23.8h0M484.9 100.6h0M487.5 140.5h0M483.0 89.4h0M491.0 118.9h0M488.7 40.3h0M490.7 121.2h0M484.2 27.5h0M483.4 140.3h0M486.6 131.6h0M488.3 74.0h0M491.1 79.6h0M457.1 65.3h0M486.2 37.8h0M481.6 80.2h0M488.4 87.2h0M486.8 139.6h0M472.3 139.4h0M478.7 135.1h0M488.9 143.2h0M489.2 119.1h0M487.9 142.9h0M471.9 127.4h0M473.6 94.9h0M485.4 55.6h0M488.7 57.7h0M482.4 105.8h0M483.2 125.3h0M464.1 80.4h0M479.1 65.6h0M479.0 26.3h0M476.7 87.7h0M486.3 120.2h0M484.6 118.8h0M486.8 143.2h0M486.0 108.7h0M482.9 137.8h0M486.5 139.1h0M483.6 78.3h0M465.7 13.0h0M475.8 45.3h0M488.0 11.4h0M470.1 127.3h0M482.5 127.9h0M474.2 60.7h0M472.2 25.4h0M483.4 121.1h0M481.5 120.8h0M470.4 49.1h0M474.9 76.1h0M490.0 60.2h0M486.4 132.8h0M490.7 117.6h0M471.5 66.7h0M473.2 92.9h0M475.8 89.9h0M477.3 34.6h0M480.3 115.2h0M486.4 140.9h0M488.5 20.0h0M484.2 100.3h0M488.6 70.9h0M490.3 82.4h0M488.3 139.2h0M490.8 116.4h0M464.8 73.2h0M479.9 26.2h0M474.1 112.6h0M448.4 78.1h0M490.9 135.8h0M480.8 86.1h0M480.8 113.7h0M487.2 136.7h0M485.8 141.2h0M490.6 137.3h0M487.8 90.5h0M482.9 101.7h0M485.4 24.8h0M488.3 129.6h0M487.7 129.3h0M475.6 41.2h0M488.4 98.8h0M490.6 107.0h0M488.0 101.1h0M485.1 115.8h0M489.6 142.0h0M477.3 132.1h0M488.5 32.0h0M482.1 118.7h0M471.2 41.5h0M488.3 142.5h0M490.6 143.2h0M486.0 34.5h0M481.5 132.7h0M488.7 103.1h0M477.3 12.0h0M461.1 113.8h0M490.9 74.7h0M478.2 88.5h0M468.6 11.3h0M490.9 13.9h0M475.0 129.7h0M491.1 57.7h0M476.6 23.0h0M484.0 89.2h0M466.4 26.3h0M485.4 38.3h0M487.4 117.8h0M478.3 143.2h0M488.3 97.7h0M490.1 52.3h0M490.2 104.7h0M482.5 111.1h0M481.9 107.3h0M473.3 56.1h0M479.0 88.4h0M474.1 32.8h0M476.1 18.8h0M484.9 61.1h0M472.3 118.7h0M480.9 21.3h0M491.2 63.5h0M477.8 30.9h0M482.1 116.4h0M485.6 139.0h0M470.8 100.0h0M484.3 32.7h0M483.4 121.0h0M452.2 12.6h0M477.3 15.7h0M487.6 139.2h0M481.1 138.2h0M486.3 126.2h0M474.3 116.0h0M491.0 104.4h0M483.0 66.3h0M478.1 94.0h0M485.0 141.2h0M487.0 118.4h0M490.6 120.6h0M486.8 86.8h0M480.0 59.5h0M486.9 138.4h0M491.0 78.4h0M473.5 89.2h0M489.6 129.6h0M486.3 138.4h0M480.5 33.0h0M468.3 34.3h0M462.7 110.6h0M486.2 73.9h0M489.8 139.2h0M481.1 75.3h0M488.2 27.7h0M483.6 138.6h0M489.4 99.3h0M488.4 113.9h0M479.3 59.4h0M483.4 142.5h0M478.9 111.3h0M484.2 81.7h0M487.5 76.6h0M484.1 121.1h0M487.5 139.4h0M478.8 12.9h0M482.2 57.5h0M491.2 142.9h0M488.8 137.5h0M490.6 98.3h0M467.8 137.0h0M488.2 27.2h0M489.2 33.6h0M450.8 72.6h0M477.4 39.7h0M436.1 23.0h0M478.1 54.0h0M479.2 105.3h0M485.0 84.4h0M482.7 35.0h0M487.8 23.4h0M472.3 64.2h0M474.9 22.9h0M489.4 143.0h0M483.7 128.8h0M472.4 72.5h0M483.0 121.6h0M435.8 58.1h0M479.2 90.5h0M478.8 92.0h0M491.0 42.0h0M470.2 63.2h0M488.9 38.6h0M486.0 134.4h0M481.2 134.0h0M470.1 41.7h0M474.2 64.3h0M488.8 102.5h0M473.4 39.4h0M483.2 142.2h0M468.0 60.5h0M490.7 81.5h0M475.9 40.7h0M489.9 142.2h0M491.1 44.7h0M481.1 111.0h0M477.2 37.2h0M483.9 113.5h0M488.3 140.4h0M482.3 100.4h0M481.0 107.9h0M489.5 67.5h0M478.3 123.3h0M459.4 33.5h0M485.8 112.1h0M479.5 20.0h0M488.8 66.9h0M481.0 85.0h0M485.0 52.0h0M477.8 124.9h0M467.8 101.7h0M489.5 37.2h0M487.1 111.7h0M477.9 101.6h0M489.3 90.2h0M484.7 67.7h0M482.0 95.7h0M484.0 81.3h0M487.1 125.5h0M457.9 54.3h0M490.0 77.5h0M484.9 59.4h0M477.5 82.6h0M475.5 88.2h0M483.9 99.8h0M474.8 72.7h0M481.6 102.9h0M477.0 87.1h0M486.4 128.0h0M454.5 27.8h0M487.3 78.6h0M483.8 133.5h0M463.3 87.1h0M485.7 88.6h0M469.4 28.5h0M485.2 29.4h0M478.3 57.0h0M477.9 94.2h0M484.7 31.5h0M490.1 61.9h0M482.3 93.5h0M489.5 133.4h0M482.2 122.3h0M478.5 73.8h0M483.6 109.4h0M482.4 129.8h0M473.3 33.2h0M485.6 128.1h0M484.6 114.8h0M484.2 89.6h0M479.6 77.6h0M466.2 63.4h0M490.4 74.1h0M488.8 101.3h0M482.6 18.7h0M476.1 99.2h0M488.1 125.4h0M480.6 115.2h0M488.7 102.7h0M478.2 23.1h0M489.1 140.7h0M475.1 20.3h0M483.4 142.4h0M488.8 112.0h0M487.4 112.8h0M486.7 119.6h0M486.3 132.0h0M484.9 84.2h0M480.9 129.2h0M487.3 119.7h0M480.0 129.4h0M489.9 88.1h0M484.7 104.2h0M444.1 59.4h0M485.9 137.6h0M475.1 111.5h0M484.7 35.3h0M466.0 65.0h0M484.2 37.2h0M489.8 63.0h0M449.1 29.8h0M491.2 127.0h0M484.7 94.9h0M486.6 110.4h0M486.8 54.6h0M488.7 130.6h0M481.6 105.0h0M486.5 14.4h0M482.4 92.2h0M487.0 142.1h0M480.3 110.4h0M489.8 142.9h0M485.4 58.1h0M487.7 32.8h0M479.0 84.5h0M475.1 119.2h0M488.2 66.1h0M475.2 85.7h0M489.0 116.7h0M489.4 52.5h0M471.6 63.7h0M484.4 142.8h0M485.8 87.6h0M468.2 85.2h0M474.1 56.8h0M486.4 52.9h0M475.2 120.1h0M488.2 140.4h0M476.4 80.4h0M474.9 97.3h0M481.4 32.0h0M472.7 103.7h0M485.1 89.9h0M489.1 123.4h0M491.3 140.0h0M475.2 70.2h0M485.6 118.2h0M488.6 121.1h0M490.7 25.8h0M487.1 32.9h0M483.3 73.6h0M484.8 122.9h0M480.9 39.4h0M470.2 85.1h0M466.2 36.2h0M473.3 107.5h0M482.8 90.5h0M488.2 92.3h0M482.8 111.0h0M472.1 43.4h0M486.0 55.2h0M474.2 25.7h0M488.1 48.1h0M491.1 59.2h0M478.5 90.6h0M486.1 89.7h0M476.8 143.1h0M473.3 61.4h0M483.6 124.1h0M488.2 86.3h0M485.0 59.3h0M489.1 23.8h0M477.7 72.4h0M469.5 112.5h0M487.6 132.4h0M481.0 136.9h0M475.3 78.4h0M489.5 14.7h0M483.7 70.4h0M483.1 128.7h0M479.5 79.6h0M488.1 108.0h0M477.8 71.6h0M490.8 121.1h0M491.3 142.0h0M479.9 105.1h0M489.6 141.9h0M487.4 42.3h0M491.3 78.6h0M485.3 136.3h0M476.6 12.3h0M488.7 115.3h0M476.6 106.7h0M474.4 105.1h0M485.4 45.3h0M485.0 61.1h0M474.8 11.4h0M483.1 61.0h0M478.8 56.3h0M477.2 35.9h0M477.4 65.1h0M484.5 97.0h0M483.2 55.6h0M474.5 41.5h0M483.4 114.3h0M489.5 84.2h0M446.1 105.6h0M478.8 61.5h0M489.2 27.2h0M481.9 39.9h0M472.7 107.9h0M487.1 128.0h0M482.9 87.4h0M484.7 140.9h0M489.9 121.4h0M466.2 22.6h0M481.3 116.8h0M452.0 28.1h0M474.1 67.7h0M488.5 133.3h0M489.7 142.1h0M478.8 31.9h0M488.2 103.5h0M483.0 119.1h0M488.1 23.2h0M489.4 111.5h0M481.6 55.7h0M489.2 136.1h0M468.7 100.0h0M481.6 104.4h0M484.3 131.5h0M477.9 60.4h0M472.6 116.4h0M473.3 47.4h0M473.3 99.1h0M482.1 20.3h0M478.3 86.1h0M478.0 39.2h0M490.1 91.2h0M445.0 28.0h0M487.0 84.6h0M487.6 116.8h0M490.8 112.4h0M479.5 136.2h0M488.2 127.3h0M481.1 96.9h0M472.3 23.7h0M481.9 45.0h0M490.4 65.9h0M470.3 101.4h0M483.1 142.0h0M487.6 92.2h0M484.5 127.4h0M490.6 32.6h0M490.6 142.1h0M490.3 132.6h0M482.8 38.7h0M482.4 50.2h0M483.9 141.9h0M481.9 85.2h0M482.6 94.6h0M436.0 62.6h0M459.9 18.3h0M488.3 47.6h0M491.2 40.0h0M486.9 57.0h0M475.3 25.8h0M487.9 123.8h0M480.5 85.9h0M490.1 129.7h0M490.2 126.1h0M484.3 106.4h0M482.1 132.6h0M491.1 102.3h0M485.2 124.2h0M490.4 134.4h0M486.6 57.7h0M485.7 118.5h0M489.5 84.8h0M480.5 76.1h0M491.0 132.6h0M491.2 37.5h0M489.3 113.6h0M481.9 42.0h0M475.4 84.0h0M480.0 88.2h0M484.8 142.5h0M490.7 74.2h0M468.3 42.3h0M470.3 24.5h0M485.9 32.4h0M486.9 129.6h0M482.5 141.7h0M474.5 67.3h0M479.7 86.1h0M489.3 85.9h0M483.1 47.6h0M477.2 13.2h0M485.9 133.7h0M463.7 124.6h0M487.4 73.2h0M465.3 52.3h0M488.1 85.4h0M487.5 141.7h0M471.1 74.5h0M490.2 133.3h0M484.5 124.6h0M487.7 138.2h0M482.0 91.8h0M451.6 85.5h0M483.2 75.9h0M490.8 123.3h0M487.1 65.8h0M476.8 127.5h0M473.7 64.8h0M489.8 61.3h0M489.1 103.5h0M488.2 50.7h0M478.6 115.4h0M491.0 106.1h0M487.1 85.7h0M477.5 117.6h0M488.6 120.3h0M485.3 133.8h0M491.1 114.1h0M487.0 49.7h0M463.4 39.1h0M478.4 140.5h0M484.9 142.9h0M477.3 98.2h0M484.9 129.3h0M491.2 13.5h0M486.4 142.8h0M478.8 18.7h0M475.0 68.4h0M482.6 118.6h0M490.8 88.6h0M477.6 76.8h0M479.3 52.0h0M458.8 15.5h0M479.2 113.2h0M486.8 140.8h0M488.1 12.5h0M488.9 142.8h0M481.0 114.5h0M469.2 11.1h0M483.6 64.9h0M480.2 94.8h0M475.2 128.6h0M489.9 75.7h0M468.7 46.5h0M475.9 69.8h0M491.0 135.9h0M478.9 65.5h0M489.3 133.6h0M478.6 103.2h0M491.1 131.2h0M490.9 132.5h0M468.9 40.4h0M472.7 63.3h0M478.8 95.5h0M478.6 123.8h0M470.0 107.3h0M481.9 131.9h0M483.5 108.2h0M485.0 61.1h0M488.7 132.5h0M476.8 49.9h0M475.6 133.9h0M489.4 113.6h0M474.8 129.7h0M487.3 142.7h0M480.0 101.1h0M472.1 41.0h0M489.8 100.5h0M489.0 126.7h0M487.9 88.5h0M483.5 137.8h0M490.1 103.2h0M476.3 14.1h0M487.8 141.8h0M484.1 101.0h0M486.7 64.1h0M487.4 123.0h0M491.1 138.0h0M483.5 141.3h0M481.9 81.2h0M480.0 95.5h0M491.1 124.2h0M478.2 126.3h0M487.1 59.6h0M488.3 113.8h0M486.3 92.7h0M487.2 137.5h0M449.0 27.7h0M480.1 102.4h0M491.0 137.2h0M473.1 45.3h0M477.1 131.7h0M479.2 88.4h0M459.9 98.6h0M486.7 112.3h0M466.3 29.5h0M483.7 112.2h0M482.8 70.0h0M483.5 69.0h0M476.5 65.5h0M466.5 128.0h0M472.3 77.0h0M486.7 131.5h0M472.9 31.0h0M491.1 42.2h0M476.4 11.4h0M491.2 36.7h0" stroke="#00FF00" stroke-width="1.5" stroke-linecap="round" fill="none"/>
<path d="M518.4 35.8h0M513.3 70.7h0M520.5 78.5h0M507.6 113.2h0M509.3 36.2h0M505.4 128.5h0M510.7 119.7h0M508.9 123.3h0M506.8 22.7h0M504.7 106.3h0M505.8 87.4h0M509.6 46.6h0M529.9 71.5h0M511.6 16.7h0M505.4 142.6h0M505.3 136.4h0M519.7 45.4h0M517.9 87.7h0M505.1 140.0h0M513.4 98.9h0M508.5 117.6h0M507.3 119.5h0M513.4 24.3h0M515.8 86.6h0M505.9 72.4h0M508.7 72.6h0M510.8 14.3h0M513.0 85.6h0M507.0 110.7h0M507.1 106.3h0M511.9 140.3h0M507.9 121.6h0M514.4 109.6h0M523.1 25.5h0M510.2 133.7h0M506.6 45.3h0M509.1 143.2h0M509.1 66.6h0M512.2 59.4h0M507.8 134.3h0M509.4 140.5h0M513.5 139.4h0M521.9 31.6h0M507.7 80.6h0M511.3 79.9h0M508.2 88.2h0M525.8 62.9h0M504.3 62.9h0M506.9 137.1h0M508.4 140.0h0M514.2 103.0h0M505.0 97.0h0M505.2 83.5h0M525.2 121.3h0M510.4 128.8h0M513.8 70.9h0M514.4 31.1h0M508.2 72.7h0M513.1 120.0h0M511.1 139.5h0M504.8 132.8h0M505.0 79.4h0M504.6 19.6h0M512.6 29.8h0M506.9 52.4h0M519.4 132.9h0M513.0 84.2h0M506.2 91.9h0M505.7 13.7h0M505.8 38.6h0M507.0 90.7h0M504.5 142.6h0M508.7 121.3h0M504.4 128.8h0M512.2 85.3h0M509.5 131.0h0M506.7 140.9h0M507.2 121.2h0M505.5 142.4h0M509.2 111.0h0M508.4 106.2h0M520.0 62.6h0M504.8 65.3h0M504.5 41.6h0M514.1 57.3h0M511.0 106.0h0M518.9 24.5h0M522.4 104.2h0M508.3 100.6h0M506.2 87.4h0M504.8 125.0h0M509.3 128.6h0M505.0 69.0h0M520.7 68.8h0M504.5 62.0h0M516.1 48.4h0M526.5 110.4h0M516.0 44.6h0M516.4 34.3h0M532.1 27.5h0M505.5 30.1h0M507.3 46.5h0M518.4 49.5h0M511.9 106.6h0M506.0 75.9h0M508.5 131.6h0M513.7 128.3h0M507.4 84.3h0M507.7 142.9h0M522.1 32.0h0M511.9 133.9h0M515.5 18.0h0M507.8 141.4h0M506.4 96.0h0M505.7 81.2h0M505.1 58.8h0M537.1 72.5h0M504.3 33.1h0M507.1 134.3h0M510.3 41.1h0M510.2 140.3h0M533.3 96.7h0M517.3 48.1h0M508.4 74.2h0M507.1 80.9h0M514.5 53.9h0M515.6 24.8h0M510.6 94.3h0M504.3 27.9h0M517.7 35.2h0M507.2 80.0h0M512.7 74.5h0M507.1 112.6h0M513.8 13.7h0M512.0 17.0h0M507.6 137.7h0M508.0 139.9h0M506.7 114.6h0M509.9 134.6h0M511.6 74.5h0M518.4 41.1h0M504.6 89.1h0M507.5 25.2h0M513.7 38.4h0M506.4 142.7h0M527.6 74.7h0M514.7 44.1h0M505.9 141.7h0M509.8 142.6h0M514.8 16.7h0M510.0 58.0h0M508.5 130.0h0M504.3 129.7h0M504.8 117.8h0M504.6 138.7h0M507.5 23.1h0M510.5 140.8h0M509.4 140.1h0M509.8 26.4h0M513.7 140.3h0M511.4 125.9h0M508.4 97.2h0M505.6 125.4h0M508.5 142.9h0M509.1 102.0h0M506.5 125.0h0M519.1 55.9h0M513.0 79.1h0M516.7 74.0h0M508.5 83.4h0M512.1 54.3h0M505.0 118.1h0M512.0 107.8h0M508.0 131.5h0M511.0 66.5h0M508.7 79.8h0M507.3 122.3h0M511.9 15.8h0M508.9 76.6h0M506.8 13.2h0M514.0 28.8h0M508.5 39.1h0M511.4 90.5h0M509.1 136.6h0M506.2 103.0h0M512.1 79.0h0M515.5 138.2h0M516.2 49.8h0M510.6 85.0h0M508.2 49.6h0M508.0 139.2h0M509.1 141.0h0M511.4 132.4h0M508.3 142.9h0M512.3 131.1h0M511.1 139.7h0M505.7 136.3h0M508.5 100.1h0M509.2 139.8h0M522.2 105.0h0M514.9 81.1h0M510.5 129.3h0M510.4 16.5h0M505.8 121.3h0M508.5 11.9h0M510.3 139.4h0M506.2 42.5h0M509.6 141.9h0M509.4 113.0h0M522.0 127.5h0M512.1 37.6h0M520.8 49.4h0M507.3 138.1h0M513.5 96.8h0M510.8 111.3h0M516.9 12.8h0M507.3 105.4h0M509.5 139.9h0M520.9 111.2h0M532.0 92.8h0M509.5 143.1h0M505.0 119.0h0M509.9 33.0h0M517.7 80.7h0M506.7 87.7h0M508.8 16.9h0M504.4 139.2h0M506.9 98.8h0M506.7 128.4h0M508.2 137.1h0M511.5 138.4h0M512.1 129.3h0M505.2 112.3h0M508.2 22.8h0M505.2 81.8h0M507.0 36.6h0M508.3 36.5h0M517.1 50.2h0M506.4 14.4h0M508.3 92.8h0M513.8 99.3h0M511.1 103.7h0M507.0 125.1h0M510.5 123.7h0M518.1 127.2h0M504.9 96.4h0M515.6 87.8h0M511.5 125.0h0M517.1 85.7h0M506.1 120.9h0M524.4 69.4h0M506.5 52.1h0M512.9 69.6h0M504.6 103.0h0M505.7 141.6h0M510.0 142.1h0M516.1 114.6h0M512.6 128.7h0M510.5 43.6h0M509.6 19.4h0M518.7 81.6h0M507.5 124.3h0M510.1 133.5h0M508.1 132.0h0M514.7 94.3h0M514.7 54.7h0M507.5 26.3h0M508.6 98.4h0M510.3 65.9h0M506.5 43.5h0M504.8 125.3h0M508.3 129.4h0M505.4 57.4h0M511.5 113.9h0M513.6 100.3h0M506.4 122.8h0M506.9 66.7h0M508.6 136.5h0M517.3 132.5h0M509.1 133.2h0M506.7 141.9h0M504.4 106.6h0M515.1 56.1h0M511.8 122.2h0M523.7 135.2h0M505.2 13.3h0M505.7 143.1h0M516.2 18.6h0M505.1 108.6h0M505.6 141.1h0M519.2 142.1h0M508.3 98.7h0M513.8 41.5h0M509.7 19.2h0M514.7 19.4h0M504.8 94.7h0M505.4 108.8h0M509.6 16.6h0M511.2 51.3h0M517.4 59.0h0M507.0 115.7h0M510.1 98.6h0M504.8 135.3h0M512.1 92.2h0M508.9 129.9h0M505.5 122.0h0M513.8 63.6h0M506.9 134.4h0M504.8 116.2h0M515.0 94.1h0M507.4 14.0h0M504.7 112.5h0M510.5 98.7h0M509.4 140.0h0M520.1 113.1h0M509.3 122.3h0M504.3 119.9h0M505.7 82.8h0M517.7 131.1h0M506.2 119.0h0M511.1 114.9h0M507.0 142.9h0M510.6 78.5h0M511.2 104.6h0M510.1 129.7h0M514.9 133.1h0M512.1 114.8h0M516.6 92.2h0M510.5 34.1h0M510.0 96.8h0M516.2 61.3h0M522.5 72.0h0M504.3 132.4h0M506.2 16.5h0M508.9 79.9h0M543.0 49.9h0M508.7 71.0h0M509.5 134.7h0M516.3 16.0h0M506.7 76.2h0M514.9 49.1h0M511.1 51.1h0M508.5 135.0h0M506.9 130.1h0M505.0 133.1h0M506.5 129.3h0M505.2 115.8h0M506.1 107.8h0M510.2 141.8h0M509.4 99.1h0M504.8 16.0h0M509.7 130.9h0M514.0 139.6h0M508.0 41.6h0M507.3 114.2h0M512.6 63.4h0M507.6 80.3h0M510.9 127.3h0M508.4 108.0h0M504.8 138.3h0M504.6 122.6h0M513.6 11.2h0M520.1 66.7h0M508.5 88.0h0M508.0 116.7h0M531.5 48.6h0M508.9 79.5h0M514.6 133.8h0M510.7 111.2h0M509.1 103.5h0M510.7 105.4h0M507.2 129.5h0M506.8 125.6h0M508.1 24.2h0M532.2 42.1h0M513.6 142.6h0M521.7 62.4h0M515.7 129.8h0M505.2 126.5h0M504.9 127.0h0M507.4 143.1h0M506.9 28.3h0M514.8 137.1h0M508.1 134.6h0M508.8 77.1h0M505.0 129.4h0M511.5 93.7h0M508.3 121.0h0M517.8 70.2h0M514.0 26.9h0M508.1 48.4h0M506.3 129.8h0M505.3 100.2h0M515.8 81.7h0M507.6 136.5h0M528.3 87.9h0M514.0 53.9h0M505.6 85.7h0M505.7 117.7h0M504.7 123.0h0M511.1 86.7h0M531.2 60.3h0M509.6 137.9h0M504.4 139.7h0M516.9 132.4h0M504.7 135.4h0M509.6 36.0h0M508.5 113.2h0M508.0 22.3h0M521.2 62.1h0M505.4 122.3h0M518.0 86.2h0M510.8 80.6h0M510.5 16.7h0M511.9 90.4h0M509.5 140.2h0M505.7 84.4h0M516.4 111.7h0M516.4 77.0h0M510.5 121.9h0M526.3 63.3h0M505.3 142.7h0M524.8 67.5h0M505.0 131.3h0M509.5 42.6h0M516.3 87.9h0M515.0 132.2h0M505.6 95.5h0M508.2 127.2h0M505.8 45.3h0M509.9 104.0h0M506.5 125.8h0M505.1 37.1h0M508.0 135.6h0M506.4 71.8h0M511.5 38.5h0M507.0 42.6h0M520.5 57.8h0M512.9 76.8h0M508.7 16.0h0M506.4 136.8h0M506.1 67.7h0M513.2 130.5h0M508.3 52.8h0M506.0 137.4h0M511.4 122.9h0M511.6 93.0h0M511.1 138.3h0M508.4 113.4h0M507.0 140.3h0M508.7 122.9h0M515.4 140.7h0M517.7 47.8h0M509.6 136.5h0M511.3 67.7h0M510.5 46.2h0M512.2 34.9h0M523.7 84.7h0M507.5 135.0h0M504.3 114.7h0M514.6 102.6h0M507.7 129.0h0M506.9 142.6h0M504.9 112.7h0M513.6 140.9h0M505.6 73.4h0M508.1 134.9h0M504.7 100.0h0M507.7 20.8h0M518.0 46.7h0M515.4 101.6h0M505.9 137.2h0M509.1 143.2h0M517.3 41.6h0M511.7 114.6h0M509.8 104.0h0M540.0 66.8h0M518.9 79.1h0M505.6 129.8h0M515.6 28.0h0M511.3 72.6h0M504.7 135.1h0M506.5 104.8h0M504.8 107.1h0M509.9 90.9h0M504.3 142.2h0M524.4 50.7h0M510.0 100.9h0M506.7 140.0h0M506.0 132.8h0M506.5 135.7h0M505.3 136.7h0M510.3 84.9h0M506.8 80.5h0M512.0 54.7h0M524.6 36.6h0M504.7 104.9h0M509.5 120.8h0M511.9 50.2h0M506.6 104.3h0M509.0 143.0h0M515.1 95.2h0M506.7 125.1h0M506.0 119.1h0M518.6 19.9h0M506.0 127.1h0M509.6 77.3h0M506.0 53.2h0M511.9 85.1h0M508.8 45.3h0M505.1 49.7h0M508.9 110.5h0M504.6 51.0h0M509.1 107.6h0M511.3 55.7h0M509.4 141.5h0M510.1 128.9h0M508.1 53.3h0M510.0 108.0h0M516.2 92.0h0M504.8 126.9h0M507.6 61.2h0M507.3 15.6h0M505.5 128.3h0M507.7 93.2h0M510.1 41.3h0M517.4 93.2h0M505.8 24.1h0M511.0 129.7h0M511.3 121.2h0M506.0 63.9h0M516.5 21.3h0M504.6 136.2h0M506.9 21.3h0M507.1 141.3h0M506.9 136.6h0M529.1 43.9h0M508.9 103.2h0M505.7 107.3h0M507.8 134.9h0M515.0 27.5h0M504.7 130.0h0M507.5 43.9h0M505.2 130.8h0M513.9 19.8h0M507.6 107.0h0M513.2 126.8h0M518.8 88.5h0M506.8 40.8h0M505.6 129.3h0M507.7 30.2h0M509.3 107.6h0M514.7 95.9h0M518.4 41.2h0M516.6 22.9h0M514.5 87.5h0M512.6 35.6h0M520.5 111.1h0M508.5 110.8h0M512.3 85.2h0M505.6 105.8h0M505.3 59.3h0M505.3 22.4h0M512.3 60.7h0M509.5 104.9h0M505.1 34.4h0M510.5 97.6h0M504.7 115.5h0M505.7 123.1h0M508.6 129.4h0M507.8 136.9h0M513.4 142.7h0M504.6 126.1h0M510.1 34.5h0M507.8 82.3h0M510.0 101.6h0M506.8 138.5h0M506.8 106.2h0M513.8 17.1h0M510.1 142.9h0M510.3 121.4h0M508.8 136.2h0M507.0 47.1h0M534.4 87.8h0M521.4 39.2h0M525.4 62.5h0M506.4 133.0h0M512.5 17.8h0M510.1 120.8h0M509.9 13.0h0M511.1 133.3h0M512.3 136.7h0M511.6 100.1h0M517.5 66.6h0M504.8 97.5h0M505.9 142.8h0M522.5 40.2h0M509.0 84.0h0M508.2 69.9h0M506.4 140.5h0M509.1 128.7h0M507.6 128.7h0M512.4 20.1h0M504.3 79.3h0M511.3 108.7h0M509.9 13.3h0M514.6 52.0h0M504.3 109.9h0M510.6 139.8h0M519.3 94.4h0M510.6 102.8h0M507.5 130.1h0M504.5 65.6h0M509.8 126.2h0M509.0 77.7h0M515.5 120.5h0M505.2 33.5h0M513.0 49.6h0M520.7 53.1h0M506.4 73.4h0M507.1 137.1h0M504.9 140.9h0M524.0 131.5h0M505.5 75.2h0M512.4 105.1h0M505.5 110.9h0M511.5 134.8h0M511.2 13.8h0M511.8 112.7h0M511.6 14.1h0M507.6 117.5h0M510.9 136.7h0M507.2 141.5h0M504.6 73.7h0M524.4 28.8h0M505.1 143.2h0M507.8 33.0h0M511.0 129.6h0M514.5 99.6h0M505.2 127.9h0M516.5 59.9h0M504.3 141.5h0M521.1 38.9h0M506.8 91.5h0M511.4 89.1h0M506.9 120.6h0M506.8 141.6h0M514.6 37.8h0M539.6 50.1h0M508.9 116.9h0M512.6 57.9h0M513.9 73.3h0M516.7 40.7h0M512.9 40.6h0M515.5 41.7h0M505.4 130.9h0M521.9 110.7h0M508.8 133.7h0M512.8 84.9h0M509.6 132.0h0M509.7 43.0h0M540.6 21.8h0M518.4 40.7h0M526.0 62.7h0M521.6 80.6h0M529.3 25.6h0M506.9 131.7h0M509.0 143.2h0M509.1 15.7h0M509.7 137.7h0M509.7 119.2h0M509.6 101.0h0M505.4 132.5h0M508.8 140.8h0M505.1 56.3h0M509.1 93.0h0M507.0 37.6h0M523.1 42.8h0M511.6 116.1h0M515.2 13.2h0M518.6 133.2h0M509.1 138.6h0M527.4 69.8h0M509.6 132.5h0M521.5 125.9h0M512.7 109.9h0M509.1 93.2h0M504.4 135.4h0M507.2 15.2h0M512.9 128.0h0M507.0 85.3h0M513.4 99.5h0M505.2 141.6h0M506.6 142.1h0M509.4 104.7h0M506.7 141.5h0M512.2 126.1h0M515.7 100.9h0M510.7 127.2h0M504.8 42.1h0M504.8 25.1h0M514.1 105.6h0M522.6 47.0h0M504.8 33.0h0M512.0 68.1h0M511.2 30.2h0M507.7 141.6h0M505.8 26.3h0M508.3 54.3h0M513.2 16.5h0M507.8 137.7h0M510.9 141.4h0M506.3 48.2h0M525.7 49.1h0M504.5 139.0h0M508.0 101.9h0M525.8 35.6h0M506.3 141.2h0M514.7 60.2h0M504.5 36.5h0M513.2 77.2h0M512.1 47.0h0M507.0 31.5h0M521.7 71.9h0M510.7 77.4h0M517.0 80.3h0M507.3 142.1h0M506.4 134.3h0M506.6 135.4h0M505.0 27.4h0M511.8 109.3h0M506.2 63.0h0M505.7 143.0h0M505.4 70.1h0M509.8 60.9h0M506.8 111.7h0M521.2 115.5h0M511.6 84.8h0M504.4 137.9h0M515.8 55.2h0M507.9 105.3h0M505.8 141.3h0M514.0 79.8h0M507.1 89.1h0M504.8 131.1h0M512.7 68.5h0M505.2 126.2h0M528.6 59.9h0M506.7 92.6h0M511.6 89.8h0M504.8 105.0h0M512.6 92.9h0M504.6 140.2h0M504.5 130.3h0M511.2 75.0h0M506.2 115.4h0M510.9 66.4h0M516.1 67.4h0M506.8 141.5h0M516.0 78.5h0M506.2 46.5h0M509.6 127.4h0M509.2 34.3h0M512.7 95.5h0M509.4 63.1h0M509.0 37.9h0M510.2 20.2h0M514.6 122.7h0M506.0 135.7h0M525.5 102.4h0M507.7 87.3h0M508.2 21.5h0M505.3 123.8h0M506.9 141.8h0M513.1 105.4h0M514.1 72.3h0M506.9 96.1h0M511.9 124.6h0M506.7 14.2h0M505.5 74.2h0M509.9 116.3h0M508.9 81.7h0M505.1 14.4h0M509.5 142.1h0M506.1 22.2h0M507.0 111.1h0M509.1 52.5h0M509.1 129.0h0M513.5 53.5h0M504.9 143.0h0M509.7 67.0h0M508.3 141.2h0M517.4 72.7h0M512.1 80.6h0M509.4 120.7h0M504.8 111.6h0M508.6 18.3h0M506.0 133.5h0M506.1 131.7h0M513.8 73.8h0M508.4 39.9h0M513.4 58.8h0M507.0 17.0h0M511.6 17.1h0M508.6 47.2h0M511.7 116.8h0M509.7 69.3h0M533.4 98.3h0M507.6 43.6h0M510.7 81.5h0M505.4 15.6h0M512.0 87.5h0M508.8 117.8h0M509.3 79.5h0M506.7 127.6h0M515.5 90.6h0M520.8 116.1h0M511.9 129.5h0M511.8 141.4h0M504.5 23.9h0M505.6 109.3h0M510.3 71.1h0M505.1 143.0h0M512.2 109.8h0M514.4 140.1h0M507.8 85.1h0M514.8 73.4h0M505.1 113.5h0M510.0 138.0h0M507.1 45.0h0M521.1 13.3h0M508.3 139.8h0M505.1 112.3h0M505.0 66.9h0M506.2 136.5h0M514.1 89.1h0M505.3 131.0h0M506.2 143.2h0M504.7 72.2h0M504.7 103.0h0M536.7 37.2h0M508.9 59.0h0M511.5 91.5h0M514.5 99.8h0M508.6 125.6h0M504.7 96.8h0M512.0 75.3h0M513.8 100.4h0M514.7 28.4h0M510.9 140.8h0M511.5 22.6h0M514.8 88.2h0M504.6 110.9h0M505.1 121.5h0M507.5 125.2h0M526.5 105.6h0M512.3 80.6h0M513.1 18.1h0M505.8 104.9h0M506.9 57.1h0M510.5 102.4h0M509.1 143.2h0M506.0 52.0h0M505.6 106.6h0M505.4 115.0h0M510.1 64.6h0M516.3 143.0h0M515.1 140.9h0M504.3 119.2h0M506.0 132.1h0M504.5 125.5h0M504.9 131.8h0M504.9 41.0h0M506.0 35.9h0M511.4 141.8h0M511.7 83.2h0M520.1 29.4h0M512.7 64.9h0M506.5 92.4h0M505.1 21.0h0M509.7 13.8h0M506.2 112.9h0M511.3 23.7h0M512.6 78.0h0M504.6 26.5h0M513.0 60.2h0M506.0 96.6h0M504.4 86.9h0M518.7 89.8h0M512.6 99.5h0M504.4 129.2h0M511.8 139.2h0M512.9 71.7h0M505.8 25.7h0M506.6 114.9h0M529.2 66.9h0M519.8 77.9h0M505.3 139.9h0M507.9 138.0h0M509.4 57.2h0M507.8 73.8h0M508.1 112.8h0M506.9 135.9h0M514.3 54.3h0M508.8 60.6h0M505.8 133.0h0M504.4 98.1h0M506.8 11.5h0M512.3 107.8h0M508.2 121.4h0M504.8 34.1h0M515.6 29.3h0M527.7 44.1h0M510.4 23.9h0M521.3 51.3h0M507.6 32.6h0M505.0 21.2h0M512.3 27.4h0M523.0 32.2h0M506.6 117.3h0M508.2 46.1h0M512.2 51.9h0M509.8 87.1h0M514.1 126.2h0M505.4 113.5h0M504.8 142.2h0M504.7 142.4h0M505.8 128.8h0M507.3 138.1h0M505.6 111.3h0M507.8 72.2h0M510.8 125.2h0M508.0 124.7h0M505.3 141.2h0M506.0 130.2h0M513.0 119.2h0M513.4 29.8h0M508.4 104.1h0M510.9 11.2h0M505.2 43.2h0M513.8 11.4h0M508.1 98.3h0M510.2 120.7h0M510.6 29.6h0M511.4 70.1h0M530.7 79.1h0M508.5 32.1h0M504.6 134.7h0M509.5 35.4h0M529.0 42.9h0M506.6 142.2h0M515.5 82.4h0M504.8 135.7h0M506.3 56.6h0M505.8 55.0h0M514.7 140.3h0M536.8 62.7h0M506.7 143.2h0M505.6 92.5h0M513.3 123.9h0M517.9 105.5h0M517.4 47.6h0M508.8 126.1h0M511.4 123.6h0M505.1 127.3h0M504.3 136.2h0M505.2 80.0h0M509.4 57.6h0M505.0 32.6h0M510.4 116.3h0M506.8 126.8h0M511.5 116.1h0M504.7 128.2h0M525.9 93.0h0M509.6 82.3h0M507.7 134.8h0M506.3 21.1h0M511.2 139.5h0M508.6 118.7h0M511.7 79.4h0M521.0 70.6h0M507.0 71.2h0M513.7 23.5h0M510.6 124.5h0M504.3 74.0h0M508.1 108.9h0M513.9 15.2h0M513.4 25.2h0M505.3 62.6h0M515.7 78.1h0M505.2 52.7h0M505.5 63.5h0M511.1 100.6h0M516.5 142.2h0M514.6 31.5h0M506.6 141.8h0M509.1 133.8h0M506.4 102.2h0M519.7 37.3h0M512.9 143.0h0M506.0 142.0h0M513.9 12.8h0M507.9 106.0h0M505.7 139.3h0M513.0 132.5h0M506.0 61.2h0M508.1 122.5h0M509.7 119.5h0M511.3 136.4h0M513.2 68.6h0M509.3 33.6h0M509.3 101.2h0M511.1 53.2h0M508.5 34.2h0M508.7 99.9h0M510.4 124.2h0M508.4 121.4h0M514.3 79.6h0M504.9 124.3h0M519.5 108.9h0M505.1 130.6h0M505.7 101.3h0M508.8 45.1h0M506.7 32.1h0M508.1 68.5h0M506.0 104.7h0M506.1 124.4h0M510.3 84.9h0M512.8 33.8h0M511.3 99.8h0M508.7 130.6h0M506.4 138.9h0M504.7 141.4h0M518.0 64.4h0M509.1 86.3h0M509.9 16.9h0M510.0 143.0h0M508.1 104.7h0M507.3 125.5h0M518.5 44.9h0M504.8 126.1h0M515.8 34.5h0M509.9 27.6h0M515.2 75.4h0M508.4 113.8h0M505.8 60.7h0M513.9 68.5h0M542.3 19.3h0M515.2 32.4h0M516.1 48.0h0M510.6 137.8h0M505.9 141.6h0M507.0 119.9h0M508.6 39.9h0M515.0 22.5h0M505.2 84.8h0M505.8 142.9h0M510.9 111.5h0M505.5 99.6h0M512.1 99.3h0M507.3 30.3h0M507.8 16.3h0M511.9 78.7h0M509.4 139.2h0M506.2 142.4h0M518.0 80.5h0M510.6 139.5h0M505.0 46.3h0M512.3 70.1h0M504.6 141.0h0M505.2 102.0h0M519.6 101.1h0M505.8 108.2h0M510.9 65.8h0M507.1 137.5h0M514.4 143.2h0M506.7 103.6h0M506.9 114.8h0M504.6 135.4h0M506.4 135.4h0M507.4 135.1h0M510.1 85.3h0M511.5 90.2h0M508.2 84.8h0M509.1 141.7h0M504.4 109.2h0M523.3 102.9h0M529.7 100.3h0M510.9 137.7h0M505.8 79.6h0M518.3 130.8h0M517.2 106.7h0M519.4 111.3h0M513.2 115.6h0M515.8 128.8h0M505.0 128.5h0M514.7 52.6h0M513.7 28.9h0M511.4 101.3h0M505.7 142.7h0M514.1 89.3h0M504.3 140.4h0M512.3 129.8h0M506.8 123.9h0M506.8 126.2h0M514.4 105.8h0M508.0 141.8h0M512.4 90.9h0M506.6 120.5h0M520.6 19.7h0M508.4 57.2h0M509.0 129.4h0M514.6 86.2h0M513.1 49.4h0M507.1 87.7h0M514.3 61.3h0M520.2 64.2h0M530.8 93.2h0M517.6 138.5h0M504.8 111.9h0M507.3 68.6h0M510.7 130.3h0M508.2 25.0h0M504.6 123.9h0M505.4 137.6h0M510.5 118.7h0M515.4 93.3h0M507.6 40.7h0M507.0 127.8h0M518.4 14.1h0M514.7 122.0h0M515.3 16.5h0M506.9 30.9h0M506.5 119.6h0M505.6 129.3h0M505.8 91.1h0M505.2 138.4h0M519.3 18.2h0M504.5 11.3h0M515.6 132.4h0M513.4 115.6h0M521.6 80.9h0M505.3 85.7h0M534.0 106.1h0M514.9 33.8h0M518.2 96.8h0M509.1 73.1h0M507.7 71.9h0M510.2 20.5h0M505.2 19.9h0M505.2 143.0h0M511.6 96.6h0M512.8 84.9h0M510.8 120.5h0M517.1 28.6h0M505.1 29.8h0M505.0 88.4h0M505.2 15.5h0M512.9 36.2h0M510.1 111.0h0M511.0 127.3h0M509.6 141.0h0M506.3 123.7h0M506.2 142.5h0M519.8 40.0h0M516.2 79.3h0M504.8 22.6h0M525.3 132.8h0M508.4 142.7h0M507.6 40.1h0M507.4 80.8h0M526.1 83.3h0M509.8 121.1h0M510.0 117.4h0M514.0 141.6h0M510.1 96.6h0M504.6 48.3h0M507.5 101.5h0M514.2 30.8h0M509.0 109.0h0M516.7 52.8h0M513.5 72.1h0M504.8 136.9h0M506.2 142.3h0M504.6 80.2h0M507.6 136.7h0M506.2 121.8h0M506.0 35.9h0M510.1 48.8h0M507.2 25.7h0M504.5 114.6h0M527.9 112.9h0M516.3 37.5h0M509.7 141.1h0M506.0 142.2h0M524.9 50.1h0M511.2 48.8h0M504.5 38.4h0M514.9 42.0h0M510.2 86.2h0M521.2 96.3h0M504.9 130.7h0M506.3 137.7h0M526.7 30.7h0M506.4 98.5h0M508.5 143.1h0M509.9 142.2h0M506.4 15.9h0M508.5 24.7h0M515.0 24.7h0M509.3 70.5h0M517.4 107.7h0M517.6 72.3h0M506.7 119.1h0M506.6 58.0h0M514.3 12.3h0M506.3 62.2h0M506.6 46.9h0M509.5 93.1h0M514.0 42.8h0M513.4 75.2h0M504.5 81.8h0M511.8 141.2h0M505.2 110.1h0M508.8 109.5h0M506.1 135.7h0M508.9 140.4h0M506.1 29.5h0M512.5 27.7h0M504.8 132.6h0M506.8 142.5h0M508.9 34.9h0M511.4 142.9h0M509.2 142.2h0M507.2 141.0h0M504.7 143.2h0M506.2 98.8h0M514.5 65.0h0M507.7 109.8h0M506.7 111.9h0M511.3 133.9h0M513.8 108.5h0M504.8 135.2h0M505.4 87.9h0M508.3 44.8h0M506.4 30.9h0M512.6 123.9h0" stroke="#FF0000" stroke-width="1.5" stroke-linecap="round" fill="none"/>
<path d="M481.2 143.2L481.4 144.4L481.6 145.5L481.8 146.7L482.0 147.8L482.2 149.0L482.4 150.1L482.7 151.3L482.9 152.5L483.1 153.6L483.3 154.8L483.6 155.9L483.8 157.1L484.1 158.2L484.3 159.4L484.6 160.5L484.8 161.7L485.1 162.8L485.3 164.0L485.6 165.1L485.9 166.3L486.2 167.4L486.5 168.6L486.8 169.7L487.1 170.9L487.4 172.0L487.8 173.2L488.1 174.3L488.5 175.5L488.8 176.6L489.2 177.8L489.7 178.9L490.1 180.1L490.6 181.2L491.1 182.4L491.6 183.5L492.2 184.7L492.9 185.8L493.7 187.0L494.8 188.1L497.3 189.3L497.3 189.3L499.2 188.1L500.0 187.0L500.6 185.8L501.1 184.7L501.6 183.5L502.0 182.4L502.3 181.2L502.7 180.1L503.0 178.9L503.3 177.8L503.6 176.6L503.9 175.5L504.2 174.3L504.4 173.2L504.7 172.0L504.9 170.9L505.1 169.7L505.4 168.6L505.6 167.4L505.8 166.3L506.0 165.1L506.2 164.0L506.4 162.8L506.6 161.7L506.8 160.5L507.0 159.4L507.2 158.2L507.4 157.1L507.5 155.9L507.7 154.8L507.9 153.6L508.1 152.5L508.2 151.3L508.4 150.1L508.6 149.0L508.7 147.8L508.9 146.7L509.0 145.5L509.2 144.4L509.3 143.2Z" fill="#000"/>
<path d="M491.7 68.0L494.9 68.0L494.9 69.9L494.9 71.8L494.9 73.7L494.9 75.6L495.0 77.5L495.0 79.4L495.0 81.3L495.0 83.1L495.0 85.0L495.0 86.9L495.0 88.8L495.0 90.7L495.1 92.6L495.1 94.5L495.1 96.4L495.1 98.3L495.1 100.2L495.1 102.1L495.1 104.0L495.1 105.9L495.2 107.8L495.2 109.7L495.2 111.5L495.2 113.4L495.2 115.3L495.2 117.2L495.2 119.1L495.2 121.0L495.3 122.9L495.3 124.8L495.3 126.7L495.3 128.6L495.3 130.5L495.3 132.4L495.3 134.3L495.4 136.2L495.4 138.1L495.4 140.0L495.4 141.8L495.4 143.7L491.7 143.7ZM504.0 68.0L500.1 68.0L500.1 69.9L500.1 71.8L500.1 73.7L500.1 75.6L500.0 77.5L500.0 79.4L500.0 81.3L500.0 83.1L500.0 85.0L500.0 86.9L500.0 88.8L499.9 90.7L499.9 92.6L499.9 94.5L499.9 96.4L499.9 98.3L499.9 100.2L499.8 102.1L499.8 104.0L499.8 105.9L499.8 107.8L499.8 109.7L499.8 111.5L499.7 113.4L499.7 115.3L499.7 117.2L499.7 119.1L499.7 121.0L499.7 122.9L499.7 124.8L499.6 126.7L499.6 128.6L499.6 130.5L499.6 132.4L499.6 134.3L499.6 136.2L499.5 138.1L499.5 140.0L499.5 141.8L499.5 143.7L504.0 143.7Z" fill="#000"/>
<path d="M495.4 140.2L495.4 141.3L495.4 142.3L495.4 143.4L495.5 144.4L495.5 145.5L495.6 146.5L495.6 147.5L495.7 148.6L495.7 149.6L495.8 150.7L495.8 151.7L495.9 152.8L495.9 153.8L496.0 154.9L496.0 155.9L496.1 156.9L496.1 158.0L496.2 159.0L496.2 160.1L496.3 161.1L496.3 162.2L496.4 163.2L496.4 164.3L496.5 165.3L496.5 166.3L496.6 167.4L496.6 168.4L496.7 169.5L496.7 170.5L496.8 171.6L496.8 172.6L496.9 173.6L496.9 174.7L497.0 175.7L497.0 176.8L497.1 177.8L497.1 178.9L497.2 179.9L497.2 181.0L497.3 182.0L497.3 182.0L497.4 181.0L497.4 179.9L497.5 178.9L497.5 177.8L497.6 176.8L497.7 175.7L497.7 174.7L497.8 173.6L497.8 172.6L497.9 171.6L498.0 170.5L498.0 169.5L498.1 168.4L498.1 167.4L498.2 166.3L498.2 165.3L498.3 164.3L498.4 163.2L498.4 162.2L498.5 161.1L498.5 160.1L498.6 159.0L498.7 158.0L498.7 156.9L498.8 155.9L498.8 154.9L498.9 153.8L499.0 152.8L499.0 151.7L499.1 150.7L499.1 149.6L499.2 148.6L499.3 147.5L499.3 146.5L499.4 145.5L499.4 144.4L499.5 143.4L499.5 142.3L499.5 141.3L499.5 140.2Z" fill="#fff"/>
<path d="M493.8 12.7h0M492.2 17.8h0M492.4 40.4h0M493.5 21.8h0M493.6 32.4h0M493.6 21.7h0M493.6 61.4h0M493.0 34.7h0M492.3 67.4h0M493.5 52.5h0M492.5 35.7h0M493.6 17.5h0M492.5 54.1h0M492.2 42.9h0M492.2 28.4h0M494.1 54.8h0M493.6 37.5h0M492.5 56.6h0M492.3 28.0h0M493.8 59.8h0M493.3 45.1h0M492.6 57.4h0M493.8 59.9h0M492.6 42.4h0M492.2 31.8h0M492.2 24.7h0M492.5 46.0h0M492.2 27.0h0M492.1 15.9h0M494.0 40.3h0M492.3 71.6h0M493.4 17.4h0M492.2 58.5h0M493.4 65.1h0M493.8 48.8h0M492.0 36.9h0M493.3 42.2h0M493.9 63.9h0M493.4 34.7h0M492.4 11.9h0M492.2 42.2h0M492.1 68.6h0M492.0 28.8h0M492.7 14.7h0M493.8 64.3h0M492.9 12.1h0M492.7 25.1h0M492.2 63.4h0M493.7 66.7h0M493.9 11.1h0M492.6 32.4h0M493.2 35.1h0M494.1 52.2h0M492.4 21.3h0M494.1 62.4h0M493.5 56.6h0M493.4 36.4h0M492.4 35.9h0M493.0 11.0h0M493.5 16.7h0M493.2 16.9h0M493.7 71.8h0M493.6 25.4h0M492.8 56.3h0M493.8 37.1h0M493.0 20.4h0M494.1 68.2h0M493.2 45.8h0M492.5 25.2h0M492.4 21.2h0M492.6 58.0h0M493.7 63.5h0M492.8 17.0h0M492.8 63.2h0M493.2 24.0h0M492.5 51.8h0M493.2 28.6h0M493.8 22.4h0M493.6 40.3h0M493.6 20.3h0M493.3 36.3h0M493.1 45.7h0M493.6 43.6h0M492.9 34.0h0M493.5 71.3h0M493.5 14.7h0M493.3 44.7h0M493.8 42.4h0M493.4 54.8h0M493.5 59.6h0M493.8 26.9h0M492.8 71.4h0M493.7 42.4h0M493.3 66.7h0M493.2 45.2h0M492.3 51.5h0M493.3 66.4h0M492.4 42.5h0M493.7 58.1h0M492.6 68.0h0M493.6 43.1h0M493.0 44.0h0M492.8 63.2h0M492.8 36.8h0M492.1 69.3h0M493.7 18.0h0M492.3 21.6h0M492.1 52.4h0M492.9 58.3h0M492.9 42.6h0M494.0 59.3h0M492.5 65.9h0M493.1 23.9h0M492.7 71.8h0M493.6 29.6h0M492.5 60.1h0M493.3 35.6h0M493.4 27.7h0M492.8 13.0h0M492.7 56.3h0M492.4 29.0h0M493.0 64.5h0M493.4 35.9h0M492.3 65.3h0M492.8 52.2h0M493.1 62.4h0M492.2 54.2h0M493.6 17.9h0M493.2 29.8h0M492.6 67.3h0M494.2 62.8h0M492.8 69.3h0M492.8 31.3h0M494.0 67.8h0M492.9 51.8h0M492.3 43.1h0M494.1 64.8h0M493.0 61.5h0M492.7 19.4h0M493.4 63.5h0M492.4 63.6h0M492.3 48.5h0M492.5 41.3h0M493.1 69.2h0M493.9 45.1h0M494.0 62.0h0M492.4 46.7h0M493.4 10.7h0M492.2 34.5h0M494.0 50.7h0M502.3 68.9h0M501.3 37.3h0M502.6 49.2h0M501.6 26.4h0M501.1 66.3h0M501.9 70.3h0M503.7 55.9h0M502.1 52.5h0M502.2 56.9h0M502.4 59.2h0M503.8 64.9h0M503.6 50.6h0M501.6 64.1h0M502.0 42.9h0M503.1 49.8h0M501.8 29.3h0M502.3 35.6h0M501.0 37.3h0M501.2 38.7h0M502.4 23.0h0M502.4 47.6h0M502.9 38.0h0M502.8 60.7h0M503.6 24.6h0M501.5 63.1h0M502.1 70.2h0M502.5 48.1h0M501.6 69.8h0M502.9 49.4h0M503.4 48.2h0M501.2 63.0h0M501.9 25.7h0M502.1 49.4h0M501.2 50.0h0M501.0 63.1h0M502.5 51.3h0M503.6 52.5h0M503.5 25.7h0M503.1 33.1h0M503.6 51.7h0M502.0 41.5h0M500.9 64.6h0M502.9 43.9h0M503.6 67.6h0M502.1 22.1h0M501.3 59.2h0M503.3 65.0h0M503.2 70.8h0M501.8 46.9h0M501.7 17.8h0M502.2 14.6h0M501.0 70.6h0M502.4 43.0h0M501.3 50.4h0M503.4 58.6h0M503.3 30.1h0M502.8 51.9h0M503.5 29.1h0M501.4 46.9h0M503.1 21.9h0M502.5 52.9h0M503.1 50.6h0M501.2 65.2h0M501.8 40.3h0M502.4 20.2h0M502.8 70.0h0M502.2 16.5h0M500.9 64.2h0M501.0 71.0h0M503.6 70.3h0M503.7 44.1h0M500.9 63.2h0M503.4 61.9h0M501.8 66.2h0M503.6 63.6h0M503.1 33.1h0M503.1 44.3h0M503.0 42.5h0M502.0 14.4h0M502.8 49.5h0M501.8 49.7h0M503.2 31.4h0M502.1 34.7h0M502.0 30.3h0M501.1 42.9h0M502.0 68.6h0M501.2 29.8h0M502.2 68.7h0M502.9 36.3h0M503.3 59.1h0M503.0 68.0h0M501.5 47.7h0M503.5 50.2h0M503.0 65.8h0M501.3 65.6h0M503.3 55.3h0M503.5 62.0h0M503.2 62.9h0M502.2 59.8h0M503.1 69.5h0M501.3 58.1h0M501.6 65.9h0M502.9 57.0h0M503.1 62.0h0M501.9 44.1h0M501.3 61.0h0M501.3 41.1h0M502.3 26.5h0M502.9 60.0h0M502.8 50.9h0M501.9 35.6h0M502.7 70.4h0M501.3 55.0h0M501.9 68.1h0M502.9 66.7h0M501.3 42.7h0M503.0 58.8h0M503.2 70.4h0M502.8 13.5h0M501.4 60.3h0M502.1 62.1h0M501.4 69.4h0M503.5 28.5h0M501.1 29.4h0M502.3 56.8h0M501.8 33.6h0M501.6 25.6h0M502.7 27.3h0M502.7 26.4h0M501.8 67.2h0M502.7 32.8h0M502.1 38.8h0M502.4 41.8h0M503.1 55.9h0M502.6 58.0h0M503.1 57.8h0M500.9 64.2h0M502.9 64.8h0M503.1 47.7h0M502.6 63.6h0M502.4 36.0h0M502.9 42.0h0M503.6 55.9h0M501.6 65.4h0M501.1 51.9h0M502.6 48.3h0M501.2 68.6h0M502.9 64.8h0M502.1 62.3h0M503.3 44.9h0M502.0 39.5h0M501.1 69.1h0M501.8 62.8h0M501.2 57.2h0M501.7 65.9h0M502.4 44.7h0M502.5 31.5h0M502.4 35.5h0M501.9 71.5h0M500.8 59.3h0M501.0 44.1h0M503.4 60.5h0M502.7 69.4h0M501.5 48.3h0M503.4 62.6h0M503.4 55.0h0M501.1 39.5h0M502.7 20.1h0M503.8 56.9h0M502.3 46.9h0M503.7 34.5h0M503.5 71.4h0M501.0 51.3h0M501.5 60.4h0M501.7 37.3h0M501.2 48.9h0M501.4 30.3h0M502.1 51.6h0M501.8 56.4h0M501.2 61.1h0M503.5 53.6h0M501.0 54.4h0M502.8 28.9h0M501.2 56.5h0M502.5 63.9h0M502.1 28.4h0M500.7 71.1h0M503.6 40.4h0M503.5 13.3h0M503.4 57.3h0M501.0 58.0h0M501.8 65.7h0M501.8 55.8h0M503.7 34.9h0M501.7 38.0h0M503.2 70.0h0M501.8 13.7h0M502.3 69.6h0M503.0 70.8h0M501.7 45.9h0M501.1 34.8h0M501.5 49.6h0M503.7 33.8h0M502.6 58.5h0M502.0 35.2h0M502.0 59.2h0M503.5 64.4h0M503.1 69.5h0M503.0 36.3h0M502.1 38.2h0M502.7 49.1h0M503.4 11.4h0M502.6 39.3h0M502.3 12.3h0M501.3 29.8h0M503.0 39.6h0M501.1 67.0h0M501.9 40.5h0M501.2 49.5h0M503.7 72.0h0M501.6 11.5h0M501.2 56.2h0M502.1 66.4h0M502.7 70.5h0M502.0 70.1h0M502.1 23.9h0M502.3 14.6h0M501.0 68.5h0M503.6 42.5h0M502.1 67.5h0M504.7 90.0h0M504.2 94.9h0M491.6 81.6h0M504.7 100.7h0M504.5 99.4h0M504.4 142.9h0M491.4 134.5h0M491.1 114.0h0M490.8 137.2h0M504.3 138.2h0M504.4 99.4h0M504.5 68.7h0M504.4 99.8h0M490.2 134.8h0M491.2 108.3h0M504.6 134.1h0M491.6 87.1h0M491.1 69.3h0M504.5 93.5h0M491.3 97.0h0M491.5 111.1h0M491.0 116.5h0M504.3 108.0h0M504.5 120.5h0M504.5 97.8h0M491.2 68.8h0M491.6 119.2h0M504.3 111.7h0M504.3 101.1h0M490.9 128.1h0M490.5 72.6h0M504.2 114.8h0M505.1 95.8h0M491.4 79.5h0M504.3 84.9h0M504.5 112.6h0M504.7 124.0h0M505.1 110.6h0M491.4 114.3h0M490.7 93.7h0M504.3 93.7h0M504.3 113.3h0M504.4 124.3h0M504.3 104.9h0M504.4 133.8h0M490.8 117.3h0M504.9 70.6h0M491.1 90.1h0M491.2 80.3h0M491.4 115.1h0M491.2 78.2h0M491.4 118.5h0M491.4 85.6h0M504.6 78.9h0M491.6 110.9h0M491.6 112.6h0M504.6 127.2h0M490.9 90.3h0M491.0 118.1h0M504.4 125.5h0M504.7 91.4h0M491.3 101.6h0M491.2 107.0h0M504.8 98.7h0M504.2 137.8h0M491.1 87.5h0M490.2 85.4h0M491.0 121.8h0M490.9 129.0h0M491.3 128.9h0M491.1 126.6h0M491.5 122.3h0M491.5 120.1h0M490.9 69.5h0M504.9 74.6h0M491.2 75.3h0M491.3 135.6h0M504.8 105.9h0M504.7 116.0h0M504.7 77.9h0M491.6 133.8h0M491.4 107.8h0M491.6 111.4h0M504.2 82.4h0M491.2 76.6h0M504.7 141.4h0M504.8 114.2h0M491.2 128.9h0M504.5 139.3h0M504.3 80.2h0M504.3 80.0h0M504.5 82.7h0M491.3 79.7h0M504.4 107.6h0M504.3 138.1h0M491.2 100.8h0M491.0 109.8h0M504.8 114.1h0M490.9 135.4h0M505.0 126.1h0M504.4 71.7h0M504.5 124.2h0M504.5 112.3h0M504.8 131.1h0M504.3 130.2h0M491.2 82.2h0M504.7 96.0h0M490.8 89.5h0M490.9 134.0h0M504.8 92.4h0M504.2 139.0h0M491.3 139.5h0M504.3 116.0h0M491.2 113.8h0M504.4 87.9h0M504.5 128.2h0M491.2 103.3h0M504.7 78.0h0M505.1 132.7h0M504.6 112.6h0M483.2 165.4h0M503.5 178.7h0M508.5 149.9h0M484.3 162.4h0M505.3 169.7h0M500.3 186.7h0M482.7 154.0h0M481.9 154.6h0M489.4 177.1h0M508.7 151.9h0M501.9 181.3h0M508.7 149.1h0M503.6 175.1h0M504.7 174.7h0M510.3 147.1h0M489.0 176.1h0M509.2 152.8h0M501.1 184.2h0M504.8 172.1h0M486.2 169.3h0M482.6 153.0h0M487.0 170.7h0M486.0 165.9h0M483.0 151.7h0M510.4 153.3h0M482.0 155.3h0M493.7 187.1h0M499.7 187.6h0M506.5 166.3h0M506.2 162.7h0M485.4 165.7h0M509.2 156.4h0M482.7 150.7h0M487.8 172.9h0M506.6 167.0h0M504.4 171.6h0M506.2 170.9h0M485.8 170.5h0M483.5 159.8h0M503.1 178.4h0M490.7 180.6h0M487.1 169.8h0M502.7 179.6h0M505.5 169.9h0M500.7 185.1h0M511.0 145.7h0M481.8 144.7h0M502.9 180.5h0M508.7 156.9h0M491.6 182.7h0M488.7 175.4h0M502.4 179.5h0M485.6 166.8h0M485.0 164.5h0M483.7 158.2h0M484.1 164.7h0M482.0 153.1h0M507.1 161.0h0M488.3 179.1h0M479.8 143.7h0M508.8 150.8h0M489.6 180.6h0M499.6 187.1h0M507.7 156.5h0M510.8 156.9h0M485.9 168.5h0M506.2 162.8h0M499.5 187.5h0M484.5 161.9h0M505.6 167.9h0M506.5 167.1h0M484.7 165.6h0M483.7 166.5h0M510.3 163.6h0M507.5 154.6h0M482.8 157.9h0M485.3 165.6h0M500.4 186.3h0M487.6 171.3h0M497.3 189.3h0M488.9 176.8h0M486.2 166.6h0M511.3 143.4h0M498.3 188.8h0M485.7 165.0h0M481.3 149.7h0M485.1 161.9h0M491.8 183.8h0M508.8 144.9h0M487.6 173.5h0M508.3 154.6h0M481.9 159.0h0M486.5 168.0h0M481.3 151.5h0M505.7 165.0h0M504.2 172.9h0M500.5 185.2h0M507.7 159.8h0M487.2 171.8h0M484.1 165.6h0M483.4 155.3h0M509.4 146.7h0M508.0 167.8h0M485.2 164.7h0M489.8 178.4h0M482.2 156.5h0M489.5 179.7h0M507.8 150.9h0M482.1 148.3h0M486.5 175.9h0M484.8 161.4h0M501.7 183.6h0M481.1 148.1h0M510.7 148.3h0M507.0 158.5h0M489.1 176.5h0M509.4 152.3h0M502.6 182.7h0M506.0 164.4h0M502.0 185.0h0M507.0 164.0h0M507.6 155.0h0M501.3 183.1h0M499.4 187.3h0M507.7 151.8h0M507.8 153.2h0M503.3 176.3h0M503.2 178.6h0M484.5 164.4h0M493.5 187.0h0M503.6 174.8h0M507.9 154.9h0M491.1 182.1h0M508.5 159.8h0M502.1 181.9h0M509.5 157.9h0M484.1 157.6h0M503.8 174.2h0M507.3 163.5h0M501.3 183.7h0M484.3 163.4h0M507.8 165.3h0M485.4 163.7h0M505.5 173.8h0M508.5 159.9h0M489.1 179.6h0M482.0 145.9h0M505.5 174.1h0M501.3 183.8h0M509.2 145.7h0M482.6 155.7h0M503.0 180.9h0M504.2 175.2h0M508.8 149.2h0M504.6 175.1h0M503.8 173.7h0M490.7 180.5h0M505.3 167.2h0M495.0 188.0h0M501.9 181.4h0M489.8 179.4h0M504.2 178.1h0M500.4 186.6h0M499.6 187.6h0M495.6 188.6h0M482.2 147.4h0M489.3 179.9h0M485.4 168.6h0M495.3 188.2h0M489.5 181.4h0M489.0 176.5h0M492.3 184.2h0M504.7 173.4h0M489.6 177.4h0M498.3 188.8h0M501.3 183.8h0M483.1 153.3h0M507.4 156.4h0M498.4 189.0h0M508.6 157.1h0M483.9 161.9h0M501.8 182.2h0M484.0 160.2h0M485.0 166.1h0M479.7 157.2h0M482.4 150.7h0M510.8 152.7h0M508.7 145.8h0M490.5 179.8h0M510.4 147.1h0M484.5 164.3h0M500.2 187.2h0M500.0 186.5h0M509.1 153.8h0M489.9 180.9h0M500.4 187.0h0M505.8 165.0h0M486.2 167.3h0M504.8 169.2h0M486.3 169.1h0M511.4 147.0h0M493.7 187.5h0M485.0 160.6h0M485.3 165.8h0M500.8 185.6h0M501.0 185.2h0M503.0 178.2h0M500.9 185.1h0M506.2 162.8h0M504.7 170.9h0M505.0 169.9h0M484.0 159.2h0M495.4 188.6h0M501.3 185.6h0M508.8 154.3h0M480.0 144.2h0M494.7 188.3h0M483.8 155.6h0M481.4 145.0h0M484.0 159.9h0M506.7 165.0h0M511.9 143.7h0M481.9 146.7h0M488.3 179.2h0M496.1 189.0h0M496.5 189.1h0M506.8 166.8h0M499.5 187.4h0M485.1 166.7h0M484.2 158.6h0M480.7 144.6h0M481.3 148.0h0M488.5 176.0h0M484.1 162.3h0M508.9 144.9h0M503.8 175.6h0M508.5 146.3h0M502.9 181.7h0M489.1 178.9h0M483.8 159.2h0M486.7 172.1h0M494.1 187.2h0M485.5 169.0h0M482.8 159.2h0M481.2 147.3h0M486.8 173.8h0M492.3 184.9h0M502.3 184.7h0M482.3 157.2h0M487.4 173.6h0M480.6 144.8h0M491.0 182.3h0M485.5 167.0h0M503.0 177.8h0M503.3 176.3h0M502.7 181.4h0M507.2 156.9h0M508.3 157.4h0M504.1 177.8h0M504.0 172.7h0M501.5 184.1h0M504.1 177.6h0M482.2 159.1h0M482.0 154.3h0M494.6 188.4h0M507.1 156.1h0M488.5 176.9h0M488.2 176.8h0M488.1 173.0h0M484.1 165.5h0M489.9 179.6h0M502.7 180.9h0M508.4 151.3h0M507.7 157.0h0M502.6 179.1h0M504.7 170.2h0M482.1 147.8h0M484.8 162.7h0M480.5 143.7h0M487.3 170.3h0M494.7 188.0h0M511.6 145.7h0M486.2 171.1h0M506.0 162.6h0M482.1 149.6h0M507.2 162.5h0M505.4 168.7h0M483.6 153.8h0M480.9 146.2h0M484.9 165.4h0M480.9 147.1h0M488.6 174.7h0M508.7 147.1h0M482.3 149.4h0M486.6 169.5h0M490.1 180.5h0M493.3 186.6h0M507.6 161.7h0M511.0 146.1h0M482.1 150.6h0M509.8 150.1h0M504.6 171.1h0M483.8 160.7h0M484.0 158.2h0M490.5 180.5h0M481.5 154.7h0M484.5 158.2h0M510.5 146.4h0M505.9 165.0h0M505.1 167.7h0M502.6 180.7h0M512.8 146.7h0M488.1 178.0h0M503.7 177.1h0M492.3 186.2h0M482.5 155.9h0M491.1 182.4h0M487.2 173.9h0M493.5 187.1h0M480.9 147.0h0M507.4 158.8h0M500.1 186.6h0M504.9 171.0h0M488.5 177.3h0M487.0 170.5h0M498.2 189.1h0M491.1 182.1h0M489.5 178.9h0M489.4 178.9h0M510.4 145.1h0M504.3 175.2h0M508.9 158.5h0M484.6 159.7h0M508.6 146.8h0M485.6 169.2h0M507.1 157.3h0M491.1 181.9h0M487.0 170.8h0M508.0 155.0h0M492.7 185.6h0M485.6 171.1h0M476.0 146.0h0M503.4 183.2h0M495.9 188.8h0M485.7 166.5h0M482.9 158.8h0M504.9 172.6h0M488.0 173.8h0M506.3 171.4h0M481.7 153.1h0M510.1 150.3h0M488.3 175.5h0M508.9 153.0h0M482.5 156.1h0M504.3 177.2h0M494.4 187.4h0M501.8 184.8h0M488.2 174.1h0M501.6 184.5h0M494.7 187.6h0M485.0 160.1h0M507.7 151.7h0M504.7 175.1h0M493.7 186.8h0M489.8 178.6h0M505.2 172.6h0M482.1 147.8h0M504.2 172.6h0M487.6 174.1h0M490.2 179.6h0M485.6 162.9h0M507.6 155.7h0M505.8 164.7h0M484.8 163.9h0M484.9 170.4h0M506.4 163.6h0M488.7 178.6h0M483.3 158.1h0M503.8 174.4h0M507.1 160.9h0M489.6 179.0h0M481.9 150.1h0M505.5 167.4h0M488.9 179.5h0M485.1 164.6h0M510.1 146.8h0M508.1 152.1h0M506.2 170.4h0M501.4 185.8h0M488.4 175.4h0M489.3 177.1h0M494.4 187.3h0M484.7 165.3h0M492.5 184.7h0M494.6 187.5h0M481.7 146.0h0M507.7 169.7h0M486.8 174.8h0M491.3 182.4h0M505.1 169.7h0M508.8 145.0h0M503.0 177.9h0M481.8 158.5h0M509.6 157.5h0M510.1 146.7h0M488.7 179.8h0M505.8 163.6h0M485.3 166.8h0M508.1 163.3h0M486.7 171.9h0M505.9 163.5h0M488.2 173.1h0M489.3 177.2h0M482.4 149.8h0M481.3 149.2h0M505.0 172.6h0M501.3 183.5h0M483.9 155.6h0M507.8 157.8h0M485.6 166.6h0M508.5 147.7h0M508.3 154.6h0M506.3 168.9h0M505.7 165.9h0M483.3 166.1h0M485.0 162.8h0M485.1 165.9h0M506.3 164.3h0M479.0 145.8h0M490.2 180.1h0M490.8 182.3h0M479.3 153.7h0M501.2 183.1h0M492.4 186.2h0M487.9 174.9h0M504.1 175.6h0M501.3 183.5h0M485.2 161.5h0M486.2 166.8h0M509.7 155.8h0M492.1 183.8h0M502.9 178.6h0M490.5 180.6h0M491.2 182.3h0M486.8 170.8h0M488.4 176.0h0M505.7 167.9h0M479.7 148.1h0M509.9 147.5h0M509.2 145.5h0M477.8 149.1h0M483.9 173.4h0M505.1 180.3h0M480.8 181.5h0M483.6 170.9h0M485.3 179.5h0M483.7 166.6h0M485.9 181.9h0M510.3 155.9h0M518.6 164.8h0M480.6 151.8h0M508.7 157.9h0M489.0 180.4h0M478.1 166.2h0M483.2 163.2h0M507.9 168.3h0M505.4 176.8h0M514.6 157.7h0M506.6 169.9h0M481.6 164.2h0M483.4 164.2h0M482.9 176.9h0M507.8 173.8h0M509.7 156.6h0M483.7 162.9h0M513.5 175.0h0M508.7 156.9h0M506.9 171.6h0M484.2 173.0h0M477.6 153.5h0M482.2 154.6h0M506.5 176.6h0M480.9 155.3h0M505.9 172.0h0M510.6 146.7h0M510.3 162.4h0M510.2 154.0h0M482.3 155.4h0M480.5 147.4h0M485.0 168.1h0M477.9 168.8h0M506.1 173.8h0M481.0 165.1h0M484.4 175.1h0M485.8 173.8h0M486.8 179.0h0M506.4 178.9h0M511.4 172.4h0M485.8 176.1h0M484.7 171.6h0M509.2 161.3h0M480.4 168.3h0M510.8 168.4h0M509.6 150.5h0M484.3 164.4h0M504.7 178.9h0M483.9 166.8h0M483.9 177.4h0M482.0 159.6h0M487.0 180.7h0M479.7 170.2h0M509.7 168.4h0M513.0 164.8h0M505.4 175.9h0M518.7 148.3h0M509.5 178.0h0M510.7 149.9h0M486.6 177.4h0M484.5 169.6h0M510.8 179.4h0M447.0 148.0h0M449.5 152.5h0M453.0 147.5h0M459.5 147.5h0M461.5 149.0h0M457.0 161.8h0M459.5 163.8h0M462.0 166.0h0M464.5 170.0h0M467.0 165.0h0M469.5 159.0h0M471.5 163.0h0M477.0 163.0h0M478.8 155.8h0M469.5 145.0h0M472.0 145.8h0M455.8 161.2h0M457.5 163.0h0M460.5 166.5h0M463.0 169.0h0M465.8 171.2h0M480.8 172.5h0M481.5 175.5h0M513.6 148.9h0M516.2 152.9h0M525.3 146.3h0M518.5 163.8h0M527.6 165.9h0M536.3 163.8h0M515.3 169.0h0M512.2 171.7h0M474.5 150.5h0M476.0 147.0h0M519.0 157.0h0M521.0 150.0h0M476.2 169.5h0M478.0 178.0h0M516.0 176.0h0M514.0 160.0h0" stroke="#000" stroke-width="1.5" stroke-linecap="round" fill="none"/>
<circle cx="565" cy="1.5" r="0.6" fill="#f00"/>
<path d="M415.8 2.2V198.5H590.6" fill="none" stroke="#555" stroke-width="1.1"/>
<line x1="413.8" y1="189.70" x2="415.8" y2="189.70" stroke="#555" stroke-width="0.6"/>
<text x="413.40" y="191.30" font-size="7.3" text-anchor="end" >0</text>
<line x1="413.8" y1="153.96" x2="415.8" y2="153.96" stroke="#555" stroke-width="0.6"/>
<text x="413.40" y="155.56" font-size="7.3" text-anchor="end" >1</text>
<line x1="413.8" y1="118.22" x2="415.8" y2="118.22" stroke="#555" stroke-width="0.6"/>
<text x="413.40" y="119.82" font-size="7.3" text-anchor="end" >2</text>
<line x1="413.8" y1="82.48" x2="415.8" y2="82.48" stroke="#555" stroke-width="0.6"/>
<text x="413.40" y="84.08" font-size="7.3" text-anchor="end" >3</text>
<line x1="413.8" y1="46.74" x2="415.8" y2="46.74" stroke="#555" stroke-width="0.6"/>
<text x="413.40" y="48.34" font-size="7.3" text-anchor="end" >4</text>
<line x1="413.8" y1="11.00" x2="415.8" y2="11.00" stroke="#555" stroke-width="0.6"/>
<text x="413.40" y="12.60" font-size="7.3" text-anchor="end" >5</text>
<line x1="439.90" y1="198.5" x2="439.90" y2="200.5" stroke="#555" stroke-width="0.6"/>
<text x="443.10" y="205.80" font-size="7.3" text-anchor="middle" >−10</text>
<line x1="468.90" y1="198.5" x2="468.90" y2="200.5" stroke="#555" stroke-width="0.6"/>
<text x="471.10" y="205.80" font-size="7.3" text-anchor="middle" >−5</text>
<line x1="497.90" y1="198.5" x2="497.90" y2="200.5" stroke="#555" stroke-width="0.6"/>
<text x="498.00" y="205.80" font-size="7.3" text-anchor="middle" >0</text>
<line x1="526.90" y1="198.5" x2="526.90" y2="200.5" stroke="#555" stroke-width="0.6"/>
<text x="527.40" y="205.80" font-size="7.3" text-anchor="middle" >5</text>
<line x1="555.90" y1="198.5" x2="555.90" y2="200.5" stroke="#555" stroke-width="0.6"/>
<text x="556.60" y="205.80" font-size="7.3" text-anchor="middle" >10</text>
<line x1="584.90" y1="198.5" x2="584.90" y2="200.5" stroke="#555" stroke-width="0.6"/>
<text x="586.40" y="205.80" font-size="7.3" text-anchor="middle" >15</text>
<text x="517.50" y="215.20" font-size="7.3" text-anchor="middle" >log2FoldChange</text>
<text x="0" y="0" font-size="8.8" text-anchor="middle" transform="translate(396.3,106) rotate(-90)">−1 * log10(padj)</text>
<circle cx="596" cy="100.70" r="2.0" fill="#00FF00"/>
<text x="605.40" y="102.90" font-size="7.1" text-anchor="start" >Down</text>
<circle cx="596" cy="109.00" r="2.0" fill="#000000"/>
<text x="605.40" y="111.20" font-size="7.1" text-anchor="start" textLength="79" lengthAdjust="spacingAndGlyphs">No Significant Difference</text>
<circle cx="596" cy="117.30" r="2.0" fill="#FF0000"/>
<text x="605.40" y="119.50" font-size="7.1" text-anchor="start" >Up</text>
<text x="49.60" y="236.70" font-size="13.5" text-anchor="start" >C</text>
<rect x="156.2" y="251.0" width="138.20" height="230.50" fill="#fff"/>
<line x1="168.6" y1="251.0" x2="168.6" y2="481.5" stroke="#f2f2f2" stroke-width="0.5"/>
<line x1="213.9" y1="251.0" x2="213.9" y2="481.5" stroke="#f2f2f2" stroke-width="0.5"/>
<line x1="259.1" y1="251.0" x2="259.1" y2="481.5" stroke="#f2f2f2" stroke-width="0.5"/>
<line x1="191.3" y1="251.0" x2="191.3" y2="481.5" stroke="#e6e6e6" stroke-width="0.9"/>
<line x1="236.5" y1="251.0" x2="236.5" y2="481.5" stroke="#e6e6e6" stroke-width="0.9"/>
<line x1="281.8" y1="251.0" x2="281.8" y2="481.5" stroke="#e6e6e6" stroke-width="0.9"/>
<line x1="156.2" y1="257.50" x2="294.4" y2="257.50" stroke="#e6e6e6" stroke-width="0.9"/>
<line x1="156.2" y1="268.95" x2="294.4" y2="268.95" stroke="#e6e6e6" stroke-width="0.9"/>
<line x1="156.2" y1="280.40" x2="294.4" y2="280.40" stroke="#e6e6e6" stroke-width="0.9"/>
<line x1="156.2" y1="291.85" x2="294.4" y2="291.85" stroke="#e6e6e6" stroke-width="0.9"/>
<line x1="156.2" y1="303.30" x2="294.4" y2="303.30" stroke="#e6e6e6" stroke-width="0.9"/>
<line x1="156.2" y1="314.75" x2="294.4" y2="314.75" stroke="#e6e6e6" stroke-width="0.9"/>
<line x1="156.2" y1="326.20" x2="294.4" y2="326.20" stroke="#e6e6e6" stroke-width="0.9"/>
<line x1="156.2" y1="337.65" x2="294.4" y2="337.65" stroke="#e6e6e6" stroke-width="0.9"/>
<line x1="156.2" y1="349.10" x2="294.4" y2="349.10" stroke="#e6e6e6" stroke-width="0.9"/>
<line x1="156.2" y1="360.55" x2="294.4" y2="360.55" stroke="#e6e6e6" stroke-width="0.9"/>
<line x1="156.2" y1="372.00" x2="294.4" y2="372.00" stroke="#e6e6e6" stroke-width="0.9"/>
<line x1="156.2" y1="383.45" x2="294.4" y2="383.45" stroke="#e6e6e6" stroke-width="0.9"/>
<line x1="156.2" y1="394.90" x2="294.4" y2="394.90" stroke="#e6e6e6" stroke-width="0.9"/>
<line x1="156.2" y1="406.35" x2="294.4" y2="406.35" stroke="#e6e6e6" stroke-width="0.9"/>
<line x1="156.2" y1="417.80" x2="294.4" y2="417.80" stroke="#e6e6e6" stroke-width="0.9"/>
<line x1="156.2" y1="429.25" x2="294.4" y2="429.25" stroke="#e6e6e6" stroke-width="0.9"/>
<line x1="156.2" y1="440.70" x2="294.4" y2="440.70" stroke="#e6e6e6" stroke-width="0.9"/>
<line x1="156.2" y1="452.15" x2="294.4" y2="452.15" stroke="#e6e6e6" stroke-width="0.9"/>
<line x1="156.2" y1="463.60" x2="294.4" y2="463.60" stroke="#e6e6e6" stroke-width="0.9"/>
<line x1="156.2" y1="475.05" x2="294.4" y2="475.05" stroke="#e6e6e6" stroke-width="0.9"/>
<circle cx="288.0" cy="257.50" r="2.9" fill="#C0118F"/>
<circle cx="277.0" cy="268.95" r="2.8" fill="#FF0000"/>
<circle cx="275.3" cy="280.40" r="2.7" fill="#FF0000"/>
<circle cx="275.3" cy="291.85" r="2.7" fill="#8C00D7"/>
<circle cx="272.0" cy="303.30" r="2.7" fill="#FF0000"/>
<circle cx="265.5" cy="314.75" r="2.6" fill="#FF0000"/>
<circle cx="243.3" cy="326.20" r="2.4" fill="#FF0000"/>
<circle cx="229.0" cy="337.65" r="2.3" fill="#FF0000"/>
<circle cx="208.4" cy="349.10" r="2.3" fill="#1010F2"/>
<circle cx="200.4" cy="360.55" r="2.1" fill="#FF0000"/>
<circle cx="190.8" cy="372.00" r="2.1" fill="#D8106A"/>
<circle cx="190.8" cy="383.45" r="2.1" fill="#C010A0"/>
<circle cx="189.2" cy="394.90" r="2.1" fill="#FF0000"/>
<circle cx="189.2" cy="406.35" r="2.1" fill="#FF0000"/>
<circle cx="175.0" cy="417.80" r="1.95" fill="#C014A0"/>
<circle cx="170.1" cy="429.25" r="1.8" fill="#C014A0"/>
<circle cx="166.9" cy="440.70" r="1.75" fill="#FF0000"/>
<circle cx="165.2" cy="452.15" r="1.6" fill="#1010F2"/>
<circle cx="163.7" cy="463.60" r="1.5" fill="#C814A0"/>
<circle cx="162.0" cy="475.05" r="1.4" fill="#D20F82"/>
<rect x="156.2" y="251.0" width="138.20" height="230.50" fill="none" stroke="#8a8a8a" stroke-width="1.0"/>
<line x1="154.2" y1="257.50" x2="156.2" y2="257.50" stroke="#555" stroke-width="0.6"/>
<line x1="154.2" y1="268.95" x2="156.2" y2="268.95" stroke="#555" stroke-width="0.6"/>
<line x1="154.2" y1="280.40" x2="156.2" y2="280.40" stroke="#555" stroke-width="0.6"/>
<line x1="154.2" y1="291.85" x2="156.2" y2="291.85" stroke="#555" stroke-width="0.6"/>
<line x1="154.2" y1="303.30" x2="156.2" y2="303.30" stroke="#555" stroke-width="0.6"/>
<line x1="154.2" y1="314.75" x2="156.2" y2="314.75" stroke="#555" stroke-width="0.6"/>
<line x1="154.2" y1="326.20" x2="156.2" y2="326.20" stroke="#555" stroke-width="0.6"/>
<line x1="154.2" y1="337.65" x2="156.2" y2="337.65" stroke="#555" stroke-width="0.6"/>
<line x1="154.2" y1="349.10" x2="156.2" y2="349.10" stroke="#555" stroke-width="0.6"/>
<line x1="154.2" y1="360.55" x2="156.2" y2="360.55" stroke="#555" stroke-width="0.6"/>
<line x1="154.2" y1="372.00" x2="156.2" y2="372.00" stroke="#555" stroke-width="0.6"/>
<line x1="154.2" y1="383.45" x2="156.2" y2="383.45" stroke="#555" stroke-width="0.6"/>
<line x1="154.2" y1="394.90" x2="156.2" y2="394.90" stroke="#555" stroke-width="0.6"/>
<line x1="154.2" y1="406.35" x2="156.2" y2="406.35" stroke="#555" stroke-width="0.6"/>
<line x1="154.2" y1="417.80" x2="156.2" y2="417.80" stroke="#555" stroke-width="0.6"/>
<line x1="154.2" y1="429.25" x2="156.2" y2="429.25" stroke="#555" stroke-width="0.6"/>
<line x1="154.2" y1="440.70" x2="156.2" y2="440.70" stroke="#555" stroke-width="0.6"/>
<line x1="154.2" y1="452.15" x2="156.2" y2="452.15" stroke="#555" stroke-width="0.6"/>
<line x1="154.2" y1="463.60" x2="156.2" y2="463.60" stroke="#555" stroke-width="0.6"/>
<line x1="154.2" y1="475.05" x2="156.2" y2="475.05" stroke="#555" stroke-width="0.6"/>
<line x1="191.3" y1="481.5" x2="191.3" y2="483.5" stroke="#555" stroke-width="0.6"/>
<text x="191.30" y="489.70" font-size="7.1" text-anchor="middle" >0.01</text>
<line x1="236.5" y1="481.5" x2="236.5" y2="483.5" stroke="#555" stroke-width="0.6"/>
<text x="236.50" y="489.70" font-size="7.1" text-anchor="middle" >0.02</text>
<line x1="281.8" y1="481.5" x2="281.8" y2="483.5" stroke="#555" stroke-width="0.6"/>
<text x="281.80" y="489.70" font-size="7.1" text-anchor="middle" >0.03</text>
<text x="228.70" y="499.30" font-size="7.1" text-anchor="middle" >GeneRatio</text>
<text x="153.20" y="259.85" font-size="6.75" text-anchor="end" >DNA−binding transcription factor activity</text>
<text x="153.20" y="269.35" font-size="6.75" text-anchor="end" >heme binding</text>
<text x="153.20" y="281.85" font-size="6.75" text-anchor="end" >carbohydrate metabolic process</text>
<text x="153.20" y="294.35" font-size="6.75" text-anchor="end" >plasma membrane</text>
<text x="153.20" y="305.10" font-size="6.75" text-anchor="end" >iron ion binding</text>
<text x="153.20" y="317.60" font-size="6.75" text-anchor="end" >chloroplast</text>
<text x="153.20" y="324.60" font-size="6.75" text-anchor="end" >oxidoreductase activity, acting on paired donors,</text>
<text x="153.20" y="331.85" font-size="6.75" text-anchor="end" >with incorporation or reduction of molecular oxygen</text>
<text x="153.20" y="339.85" font-size="6.75" text-anchor="end" >monooxygenase activity</text>
<text x="153.20" y="350.85" font-size="6.75" text-anchor="end" >extracellular region</text>
<text x="153.20" y="361.85" font-size="6.75" text-anchor="end" >chloroplast thylakoid membrane</text>
<text x="153.20" y="371.85" font-size="6.75" text-anchor="end" >DNA−binding transcription factor activity, RNA</text>
<text x="153.20" y="378.35" font-size="6.75" text-anchor="end" >polymerase II−specific</text>
<text x="153.20" y="385.10" font-size="6.75" text-anchor="end" >cell wall</text>
<text x="153.20" y="396.85" font-size="6.75" text-anchor="end" >photosynthesis</text>
<text x="153.20" y="406.85" font-size="6.75" text-anchor="end" >acyltransferase activity, transferring groups</text>
<text x="151.70" y="413.10" font-size="6.75" text-anchor="end" >other than amino−acyl groups</text>
<text x="151.60" y="420.10" font-size="6.75" text-anchor="end" >RNA polymerase II cis−regulatory region sequence−</text>
<text x="153.20" y="425.60" font-size="6.75" text-anchor="end" >specific DNA binding</text>
<text x="153.20" y="433.60" font-size="6.75" text-anchor="end" >pectin catabolic process</text>
<text x="153.20" y="443.10" font-size="6.75" text-anchor="end" >photosystem II oxygen evolving complex</text>
<text x="153.20" y="454.35" font-size="6.75" text-anchor="end" >glucan endo−1,3−beta−D−glucosidase activity</text>
<text x="153.20" y="465.85" font-size="6.75" text-anchor="end" >extrinsic component of membrane</text>
<text x="153.20" y="477.35" font-size="6.75" text-anchor="end" >glucose metabolic process</text>
<text x="311.50" y="306.50" font-size="8.7" text-anchor="start" >Count</text>
<circle cx="317.3" cy="315.0" r="3.35" fill="#000"/>
<text x="326.30" y="317.50" font-size="7.4" text-anchor="start" >20</text>
<circle cx="317.3" cy="324.9" r="4.1" fill="#000"/>
<text x="326.30" y="327.40" font-size="7.4" text-anchor="start" >40</text>
<circle cx="317.3" cy="334.9" r="4.65" fill="#000"/>
<text x="326.30" y="337.40" font-size="7.4" text-anchor="start" >60</text>
<circle cx="317.3" cy="346.8" r="5.1" fill="#000"/>
<text x="326.30" y="349.30" font-size="7.4" text-anchor="start" >80</text>
<text x="311.00" y="372.80" font-size="8.7" text-anchor="start" >p.adjust</text>
<defs><linearGradient id="gc" x1="0" y1="0" x2="0" y2="1"><stop offset="0" stop-color="#FF0000"/><stop offset="0.5" stop-color="#BC009C"/><stop offset="1" stop-color="#2A00FF"/></linearGradient></defs>
<rect x="311.2" y="376.8" width="9.80" height="48.80" fill="url(#gc)"/>
<line x1="311.2" y1="390.4" x2="313.2" y2="390.4" stroke="#fff" stroke-width="0.6"/>
<line x1="319.0" y1="390.4" x2="321.0" y2="390.4" stroke="#fff" stroke-width="0.6"/>
<text x="323.60" y="392.90" font-size="7.4" text-anchor="start" >0.001</text>
<line x1="311.2" y1="404.0" x2="313.2" y2="404.0" stroke="#fff" stroke-width="0.6"/>
<line x1="319.0" y1="404.0" x2="321.0" y2="404.0" stroke="#fff" stroke-width="0.6"/>
<text x="323.60" y="406.50" font-size="7.4" text-anchor="start" >0.002</text>
<line x1="311.2" y1="417.4" x2="313.2" y2="417.4" stroke="#fff" stroke-width="0.6"/>
<line x1="319.0" y1="417.4" x2="321.0" y2="417.4" stroke="#fff" stroke-width="0.6"/>
<text x="323.60" y="419.90" font-size="7.4" text-anchor="start" >0.003</text>
<text x="365.60" y="236.90" font-size="13.5" text-anchor="start" >D</text>
<rect x="462.4" y="248.9" width="168.30" height="232.60" fill="#fff"/>
<line x1="466.25" y1="248.9" x2="466.25" y2="481.5" stroke="#f2f2f2" stroke-width="0.5"/>
<line x1="516.25" y1="248.9" x2="516.25" y2="481.5" stroke="#f2f2f2" stroke-width="0.5"/>
<line x1="566.25" y1="248.9" x2="566.25" y2="481.5" stroke="#f2f2f2" stroke-width="0.5"/>
<line x1="616.25" y1="248.9" x2="616.25" y2="481.5" stroke="#f2f2f2" stroke-width="0.5"/>
<line x1="491.25" y1="248.9" x2="491.25" y2="481.5" stroke="#e6e6e6" stroke-width="0.9"/>
<line x1="541.25" y1="248.9" x2="541.25" y2="481.5" stroke="#e6e6e6" stroke-width="0.9"/>
<line x1="591.25" y1="248.9" x2="591.25" y2="481.5" stroke="#e6e6e6" stroke-width="0.9"/>
<line x1="462.4" y1="255.50" x2="630.7" y2="255.50" stroke="#e6e6e6" stroke-width="0.9"/>
<line x1="462.4" y1="267.04" x2="630.7" y2="267.04" stroke="#e6e6e6" stroke-width="0.9"/>
<line x1="462.4" y1="278.58" x2="630.7" y2="278.58" stroke="#e6e6e6" stroke-width="0.9"/>
<line x1="462.4" y1="290.12" x2="630.7" y2="290.12" stroke="#e6e6e6" stroke-width="0.9"/>
<line x1="462.4" y1="301.66" x2="630.7" y2="301.66" stroke="#e6e6e6" stroke-width="0.9"/>
<line x1="462.4" y1="313.20" x2="630.7" y2="313.20" stroke="#e6e6e6" stroke-width="0.9"/>
<line x1="462.4" y1="324.74" x2="630.7" y2="324.74" stroke="#e6e6e6" stroke-width="0.9"/>
<line x1="462.4" y1="336.28" x2="630.7" y2="336.28" stroke="#e6e6e6" stroke-width="0.9"/>
<line x1="462.4" y1="347.82" x2="630.7" y2="347.82" stroke="#e6e6e6" stroke-width="0.9"/>
<line x1="462.4" y1="359.36" x2="630.7" y2="359.36" stroke="#e6e6e6" stroke-width="0.9"/>
<line x1="462.4" y1="370.90" x2="630.7" y2="370.90" stroke="#e6e6e6" stroke-width="0.9"/>
<line x1="462.4" y1="382.44" x2="630.7" y2="382.44" stroke="#e6e6e6" stroke-width="0.9"/>
<line x1="462.4" y1="393.98" x2="630.7" y2="393.98" stroke="#e6e6e6" stroke-width="0.9"/>
<line x1="462.4" y1="405.52" x2="630.7" y2="405.52" stroke="#e6e6e6" stroke-width="0.9"/>
<line x1="462.4" y1="417.06" x2="630.7" y2="417.06" stroke="#e6e6e6" stroke-width="0.9"/>
<line x1="462.4" y1="428.60" x2="630.7" y2="428.60" stroke="#e6e6e6" stroke-width="0.9"/>
<line x1="462.4" y1="440.14" x2="630.7" y2="440.14" stroke="#e6e6e6" stroke-width="0.9"/>
<line x1="462.4" y1="451.68" x2="630.7" y2="451.68" stroke="#e6e6e6" stroke-width="0.9"/>
<line x1="462.4" y1="463.22" x2="630.7" y2="463.22" stroke="#e6e6e6" stroke-width="0.9"/>
<line x1="462.4" y1="474.76" x2="630.7" y2="474.76" stroke="#e6e6e6" stroke-width="0.9"/>
<circle cx="622.5" cy="255.50" r="2.8" fill="#FF0000"/>
<circle cx="568.75" cy="267.04" r="2.6" fill="#FF0000"/>
<circle cx="564.25" cy="278.58" r="2.6" fill="#FF0000"/>
<circle cx="564.25" cy="290.12" r="2.6" fill="#FF0000"/>
<circle cx="562.0" cy="301.66" r="2.6" fill="#FF0000"/>
<circle cx="514.75" cy="313.20" r="2.2" fill="#FF0000"/>
<circle cx="512.5" cy="324.74" r="2.2" fill="#FF0000"/>
<circle cx="505.75" cy="336.28" r="2.1" fill="#FF0000"/>
<circle cx="494.4" cy="347.82" r="1.9" fill="#F8002C"/>
<circle cx="492.3" cy="359.36" r="1.9" fill="#F00040"/>
<circle cx="490.3" cy="370.90" r="1.85" fill="#E6104C"/>
<circle cx="490.2" cy="382.44" r="1.85" fill="#C8108C"/>
<circle cx="487.9" cy="393.98" r="1.85" fill="#E21060"/>
<circle cx="487.9" cy="405.52" r="1.85" fill="#C8108C"/>
<circle cx="485.7" cy="417.06" r="1.8" fill="#C01096"/>
<circle cx="485.7" cy="428.60" r="1.8" fill="#1414F0"/>
<circle cx="478.8" cy="440.14" r="1.65" fill="#B818A8"/>
<circle cx="476.75" cy="451.68" r="1.6" fill="#FF0000"/>
<circle cx="472.0" cy="463.22" r="1.5" fill="#E6084A"/>
<circle cx="469.75" cy="474.76" r="1.35" fill="#FF0000"/>
<rect x="462.4" y="248.9" width="168.30" height="232.60" fill="none" stroke="#8a8a8a" stroke-width="1.0"/>
<line x1="460.4" y1="255.50" x2="462.4" y2="255.50" stroke="#555" stroke-width="0.6"/>
<line x1="460.4" y1="267.04" x2="462.4" y2="267.04" stroke="#555" stroke-width="0.6"/>
<line x1="460.4" y1="278.58" x2="462.4" y2="278.58" stroke="#555" stroke-width="0.6"/>
<line x1="460.4" y1="290.12" x2="462.4" y2="290.12" stroke="#555" stroke-width="0.6"/>
<line x1="460.4" y1="301.66" x2="462.4" y2="301.66" stroke="#555" stroke-width="0.6"/>
<line x1="460.4" y1="313.20" x2="462.4" y2="313.20" stroke="#555" stroke-width="0.6"/>
<line x1="460.4" y1="324.74" x2="462.4" y2="324.74" stroke="#555" stroke-width="0.6"/>
<line x1="460.4" y1="336.28" x2="462.4" y2="336.28" stroke="#555" stroke-width="0.6"/>
<line x1="460.4" y1="347.82" x2="462.4" y2="347.82" stroke="#555" stroke-width="0.6"/>
<line x1="460.4" y1="359.36" x2="462.4" y2="359.36" stroke="#555" stroke-width="0.6"/>
<line x1="460.4" y1="370.90" x2="462.4" y2="370.90" stroke="#555" stroke-width="0.6"/>
<line x1="460.4" y1="382.44" x2="462.4" y2="382.44" stroke="#555" stroke-width="0.6"/>
<line x1="460.4" y1="393.98" x2="462.4" y2="393.98" stroke="#555" stroke-width="0.6"/>
<line x1="460.4" y1="405.52" x2="462.4" y2="405.52" stroke="#555" stroke-width="0.6"/>
<line x1="460.4" y1="417.06" x2="462.4" y2="417.06" stroke="#555" stroke-width="0.6"/>
<line x1="460.4" y1="428.60" x2="462.4" y2="428.60" stroke="#555" stroke-width="0.6"/>
<line x1="460.4" y1="440.14" x2="462.4" y2="440.14" stroke="#555" stroke-width="0.6"/>
<line x1="460.4" y1="451.68" x2="462.4" y2="451.68" stroke="#555" stroke-width="0.6"/>
<line x1="460.4" y1="463.22" x2="462.4" y2="463.22" stroke="#555" stroke-width="0.6"/>
<line x1="460.4" y1="474.76" x2="462.4" y2="474.76" stroke="#555" stroke-width="0.6"/>
<line x1="491.25" y1="481.5" x2="491.25" y2="483.5" stroke="#555" stroke-width="0.6"/>
<text x="491.25" y="489.70" font-size="7.1" text-anchor="middle" >0.025</text>
<line x1="541.25" y1="481.5" x2="541.25" y2="483.5" stroke="#555" stroke-width="0.6"/>
<text x="541.25" y="489.70" font-size="7.1" text-anchor="middle" >0.050</text>
<line x1="591.25" y1="481.5" x2="591.25" y2="483.5" stroke="#555" stroke-width="0.6"/>
<text x="591.25" y="489.70" font-size="7.1" text-anchor="middle" >0.075</text>
<text x="548.00" y="499.30" font-size="7.1" text-anchor="middle" >GeneRatio</text>
<text x="458.10" y="256.85" font-size="6.75" text-anchor="end" >Carbon metabolism</text>
<text x="459.00" y="268.10" font-size="6.75" text-anchor="end" >Starch and sucrose metabolism</text>
<text x="459.00" y="280.10" font-size="6.75" text-anchor="end" >Phenylpropanoid biosynthesis</text>
<text x="459.00" y="291.60" font-size="6.75" text-anchor="end" >Glycolysis / Gluconeogenesis</text>
<text x="459.00" y="301.35" font-size="6.75" text-anchor="end" >Plant hormone signal</text>
<text x="459.00" y="307.35" font-size="6.75" text-anchor="end" >transduction</text>
<text x="459.00" y="314.85" font-size="6.75" text-anchor="end" >Photosynthesis</text>
<text x="459.00" y="324.10" font-size="6.75" text-anchor="end" >Carbon fixation in</text>
<text x="459.00" y="329.85" font-size="6.75" text-anchor="end" >photosynthetic organisms</text>
<text x="459.00" y="337.60" font-size="6.75" text-anchor="end" >Glutathione metabolism</text>
<text x="459.00" y="349.35" font-size="6.75" text-anchor="end" >Tryptophan metabolism</text>
<text x="459.00" y="361.10" font-size="6.75" text-anchor="end" >Pentose phosphate pathway</text>
<text x="459.00" y="372.60" font-size="6.75" text-anchor="end" >Cyanoamino acid metabolism</text>
<text x="459.00" y="381.85" font-size="6.75" text-anchor="end" >Pentose and glucuronate</text>
<text x="459.00" y="387.35" font-size="6.75" text-anchor="end" >interconversions</text>
<text x="459.00" y="395.60" font-size="6.75" text-anchor="end" >Tyrosine metabolism</text>
<text x="459.00" y="404.85" font-size="6.75" text-anchor="end" >Porphyrin and chlorophyll</text>
<text x="459.00" y="410.10" font-size="6.75" text-anchor="end" >metabolism</text>
<text x="459.00" y="418.60" font-size="6.75" text-anchor="end" >Fatty acid degradation</text>
<text x="459.00" y="427.60" font-size="6.75" text-anchor="end" >Arginine and proline</text>
<text x="459.00" y="432.85" font-size="6.75" text-anchor="end" >metabolism</text>
<text x="459.00" y="439.85" font-size="6.75" text-anchor="end" >Ubiquinone and other</text>
<text x="459.00" y="445.60" font-size="6.75" text-anchor="end" >terpenoid−quinone biosynthesis</text>
<text x="459.00" y="453.10" font-size="6.75" text-anchor="end" >Flavonoid biosynthesis</text>
<text x="459.00" y="464.85" font-size="6.75" text-anchor="end" >Zeatin biosynthesis</text>
<text x="459.00" y="475.35" font-size="6.75" text-anchor="end" >Stilbenoid, diarylheptanoid</text>
<text x="459.00" y="481.35" font-size="6.75" text-anchor="end" >and gingerol biosynthesis</text>
<text x="646.80" y="312.00" font-size="8.7" text-anchor="start" >Count</text>
<circle cx="652.1" cy="319.4" r="2.95" fill="#000"/>
<text x="661.00" y="321.90" font-size="7.4" text-anchor="start" >20</text>
<circle cx="652.1" cy="328.5" r="3.8" fill="#000"/>
<text x="661.00" y="331.00" font-size="7.4" text-anchor="start" >40</text>
<circle cx="652.1" cy="338.0" r="4.4" fill="#000"/>
<text x="661.00" y="340.50" font-size="7.4" text-anchor="start" >60</text>
<circle cx="652.1" cy="349.2" r="4.9" fill="#000"/>
<text x="661.00" y="351.70" font-size="7.4" text-anchor="start" >80</text>
<text x="646.50" y="375.80" font-size="8.7" text-anchor="start" >p.adjust</text>
<defs><linearGradient id="gd" x1="0" y1="0" x2="0" y2="1"><stop offset="0" stop-color="#FF0000"/><stop offset="0.5" stop-color="#BC009C"/><stop offset="1" stop-color="#2A00FF"/></linearGradient></defs>
<rect x="646.1" y="379.2" width="9.40" height="44.50" fill="url(#gd)"/>
<line x1="646.1" y1="389.4" x2="648.1" y2="389.4" stroke="#fff" stroke-width="0.6"/>
<line x1="653.5" y1="389.4" x2="655.5" y2="389.4" stroke="#fff" stroke-width="0.6"/>
<text x="658.00" y="391.90" font-size="7.4" text-anchor="start" >0.005</text>
<line x1="646.1" y1="400.2" x2="648.1" y2="400.2" stroke="#fff" stroke-width="0.6"/>
<line x1="653.5" y1="400.2" x2="655.5" y2="400.2" stroke="#fff" stroke-width="0.6"/>
<text x="658.00" y="402.70" font-size="7.4" text-anchor="start" >0.010</text>
<line x1="646.1" y1="410.7" x2="648.1" y2="410.7" stroke="#fff" stroke-width="0.6"/>
<line x1="653.5" y1="410.7" x2="655.5" y2="410.7" stroke="#fff" stroke-width="0.6"/>
<text x="658.00" y="413.20" font-size="7.4" text-anchor="start" >0.015</text>
<line x1="646.1" y1="421.2" x2="648.1" y2="421.2" stroke="#fff" stroke-width="0.6"/>
<line x1="653.5" y1="421.2" x2="655.5" y2="421.2" stroke="#fff" stroke-width="0.6"/>
<text x="658.00" y="423.70" font-size="7.4" text-anchor="start" >0.020</text>
</svg>
</body></html>
